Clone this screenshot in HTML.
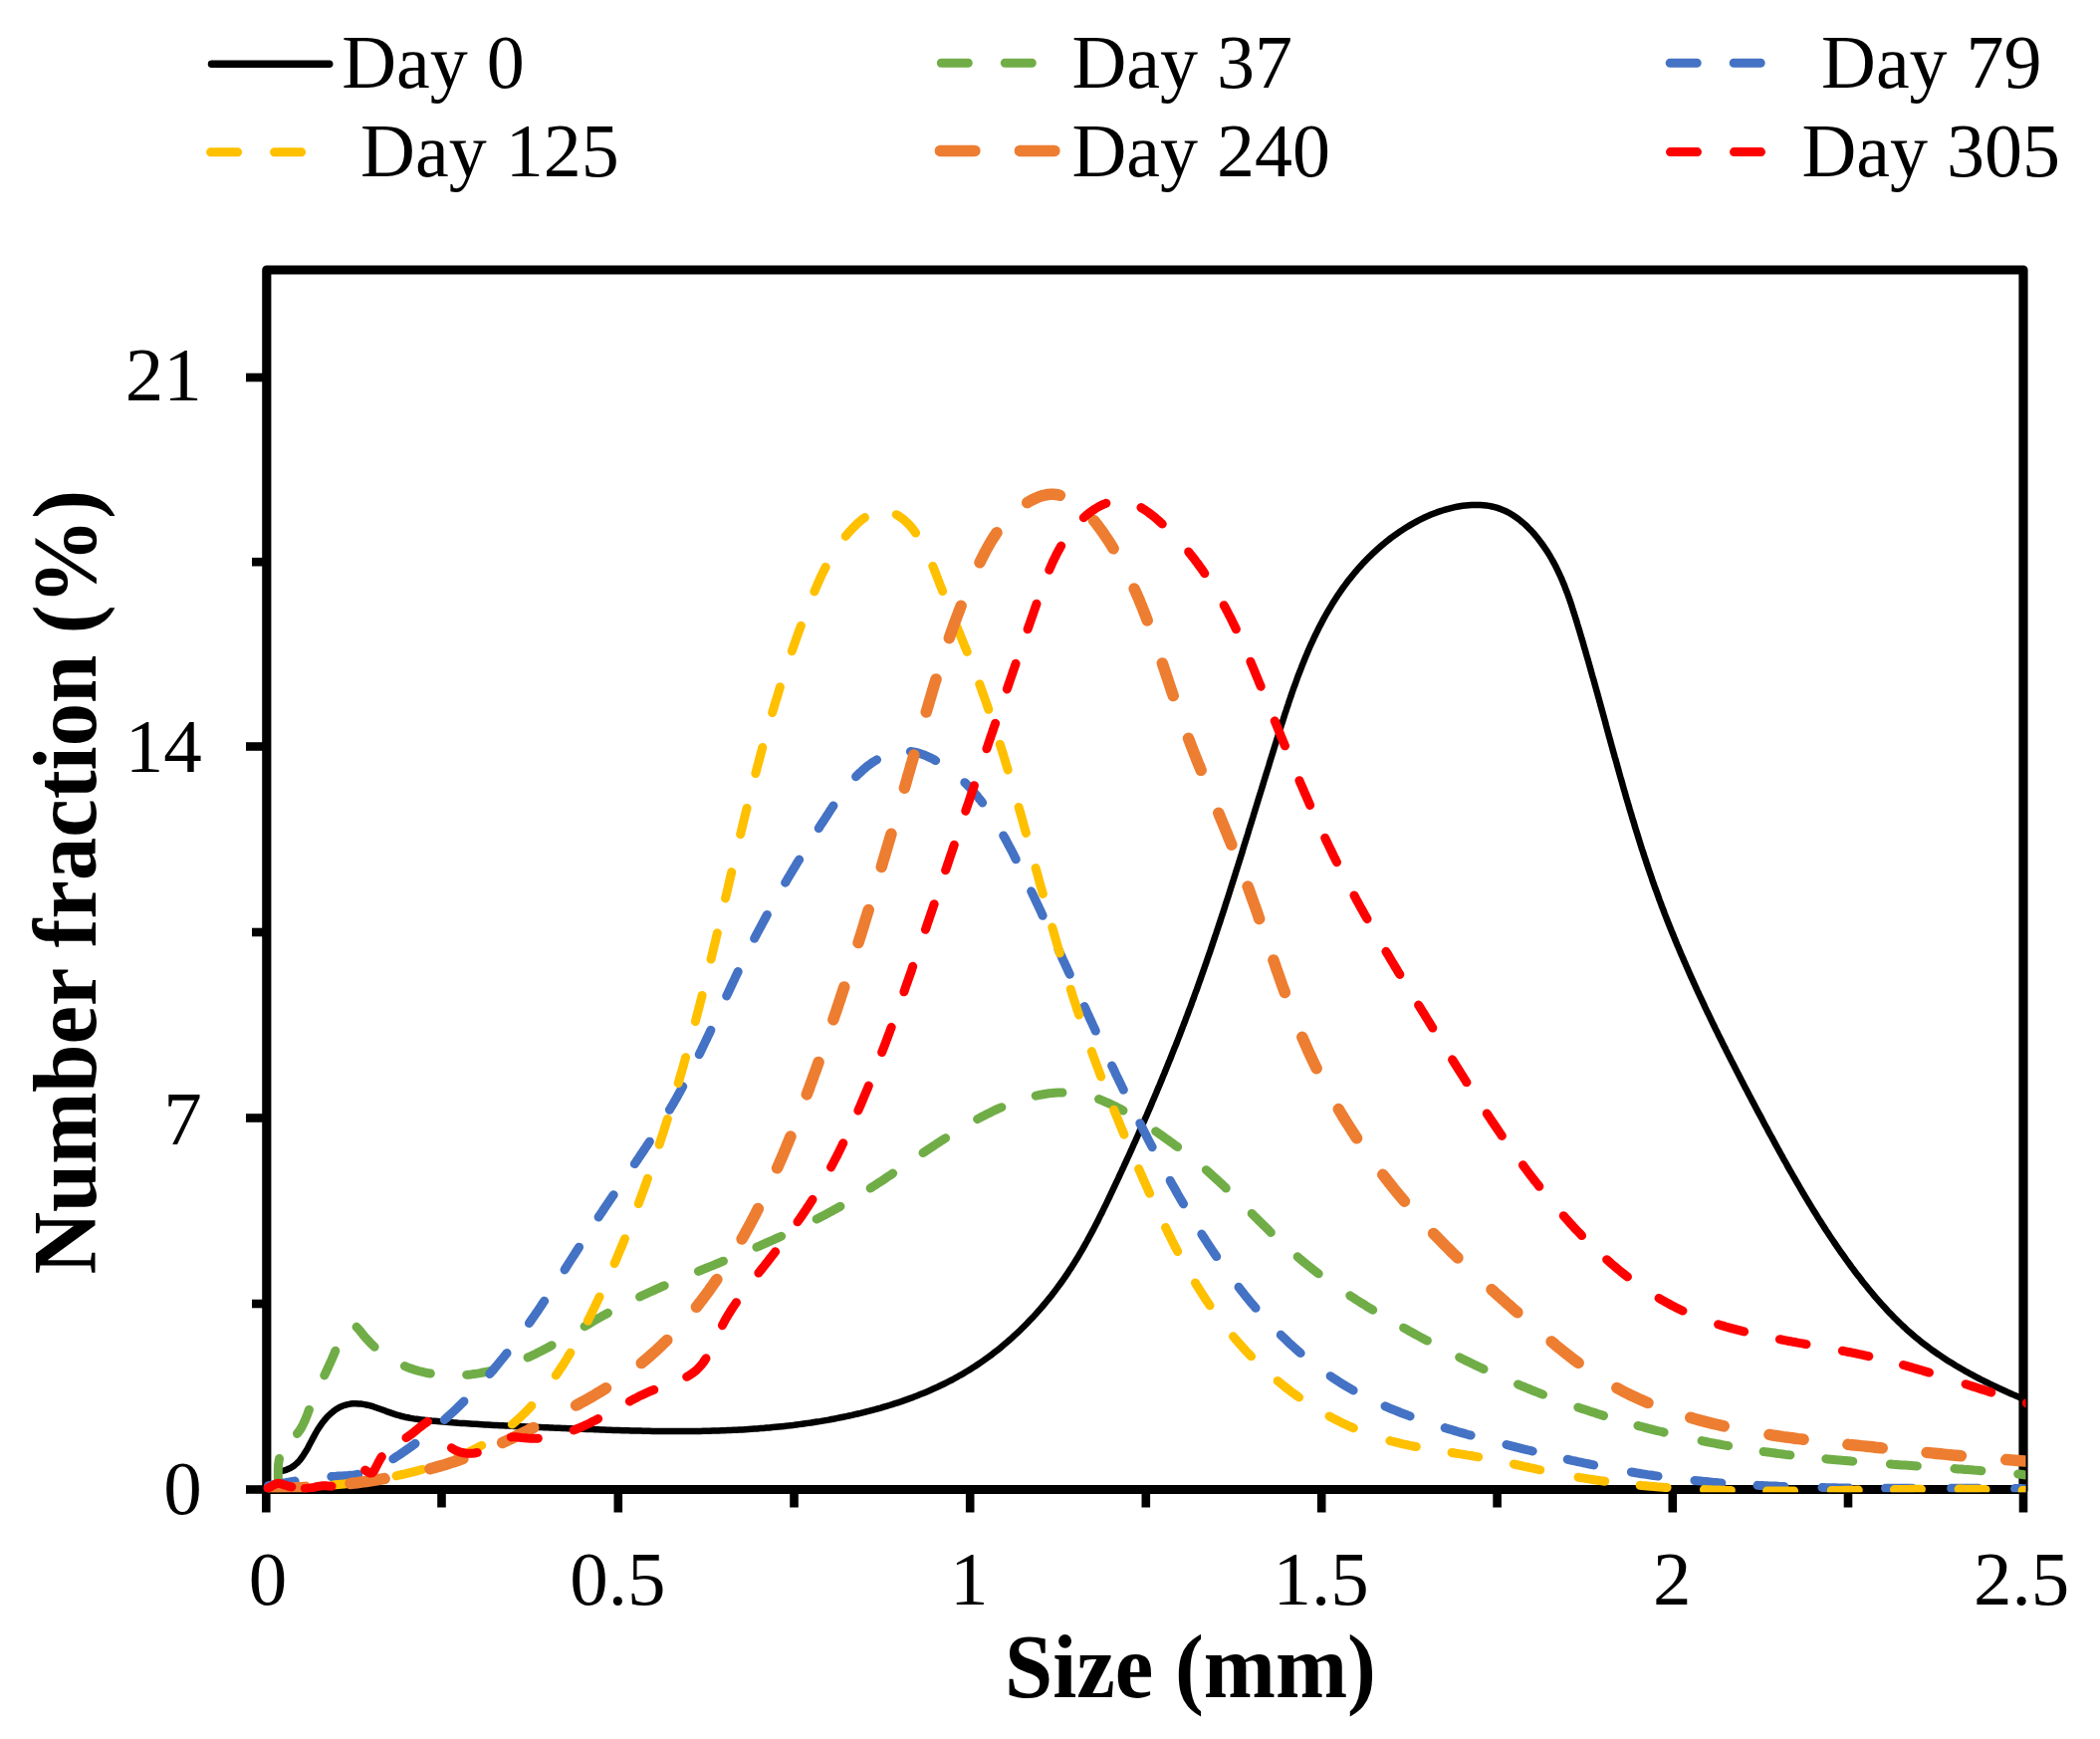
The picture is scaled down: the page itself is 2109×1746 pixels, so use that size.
<!DOCTYPE html><html><head><meta charset="utf-8"><title>Number fraction vs Size</title>
<style>html,body{margin:0;padding:0;background:#fff;overflow:hidden;}svg{display:block;}text{font-family:"Liberation Serif", "Times New Roman", serif;fill:#000;}</style></head><body>
<svg width="2109" height="1746" viewBox="0 0 2109 1746">
<rect width="2109" height="1746" fill="#fff"/>
<line x1="212.5" y1="64.2" x2="330.7" y2="64.2" stroke="#000" stroke-width="7.5" stroke-linecap="round"/>
<line x1="945.3" y1="63.3" x2="1062" y2="63.3" stroke="#70AD47" stroke-width="9" stroke-linecap="round" stroke-dasharray="27 37"/>
<line x1="1677.2" y1="63.3" x2="1794" y2="63.3" stroke="#4472C4" stroke-width="9" stroke-linecap="round" stroke-dasharray="27 37"/>
<line x1="211.6" y1="152.8" x2="328" y2="152.8" stroke="#FFC000" stroke-width="9" stroke-linecap="round" stroke-dasharray="27 37"/>
<line x1="944.4" y1="151.4" x2="1064" y2="151.4" stroke="#ED7D31" stroke-width="11.5" stroke-linecap="round" stroke-dasharray="34.5 45.5"/>
<line x1="1677.5" y1="152.6" x2="1794" y2="152.6" stroke="#FF0000" stroke-width="9" stroke-linecap="round" stroke-dasharray="27 37"/>
<text x="343.2" y="88.1" font-size="76">Day 0</text>
<text x="1076.4" y="88.1" font-size="76">Day 37</text>
<text x="1829.0" y="88.1" font-size="76">Day 79</text>
<text x="362.1" y="176.6" font-size="76">Day 125</text>
<text x="1076.4" y="176.6" font-size="76">Day 240</text>
<text x="1809.4" y="176.6" font-size="76">Day 305</text>
<path d="M267.8 1495.5 L267.8 271.0 L2032.0 271.0 L2032.0 1495.5 Z" fill="none" stroke="#000" stroke-width="9.2" stroke-linejoin="round"/>
<line x1="267.8" y1="1495.5" x2="2032.0" y2="1495.5" stroke="#000" stroke-width="8.2"/>
<line x1="267.3" y1="1495.5" x2="267.3" y2="1518.5" stroke="#000" stroke-width="8.6"/>
<line x1="443.5" y1="1495.5" x2="443.5" y2="1513.5" stroke="#000" stroke-width="8.6"/>
<line x1="620.8" y1="1495.5" x2="620.8" y2="1518.5" stroke="#000" stroke-width="8.6"/>
<line x1="797.5" y1="1495.5" x2="797.5" y2="1513.5" stroke="#000" stroke-width="8.6"/>
<line x1="974.2" y1="1495.5" x2="974.2" y2="1518.5" stroke="#000" stroke-width="8.6"/>
<line x1="1150.8" y1="1495.5" x2="1150.8" y2="1513.5" stroke="#000" stroke-width="8.6"/>
<line x1="1327.2" y1="1495.5" x2="1327.2" y2="1518.5" stroke="#000" stroke-width="8.6"/>
<line x1="1503.6" y1="1495.5" x2="1503.6" y2="1513.5" stroke="#000" stroke-width="8.6"/>
<line x1="1679.8" y1="1495.5" x2="1679.8" y2="1518.5" stroke="#000" stroke-width="8.6"/>
<line x1="1856.0" y1="1495.5" x2="1856.0" y2="1513.5" stroke="#000" stroke-width="8.6"/>
<line x1="2032.0" y1="1495.5" x2="2032.0" y2="1518.5" stroke="#000" stroke-width="8.6"/>
<line x1="247" y1="1495.5" x2="267.8" y2="1495.5" stroke="#000" stroke-width="8.6"/>
<line x1="247" y1="1122.5" x2="267.8" y2="1122.5" stroke="#000" stroke-width="8.6"/>
<line x1="247" y1="749.5" x2="267.8" y2="749.5" stroke="#000" stroke-width="8.6"/>
<line x1="247" y1="379.0" x2="267.8" y2="379.0" stroke="#000" stroke-width="8.6"/>
<line x1="253" y1="1309.0" x2="267.8" y2="1309.0" stroke="#000" stroke-width="8.6"/>
<line x1="253" y1="936.0" x2="267.8" y2="936.0" stroke="#000" stroke-width="8.6"/>
<line x1="253" y1="564.2" x2="267.8" y2="564.2" stroke="#000" stroke-width="8.6"/>
<defs><clipPath id="pa"><rect x="255" y="260" width="1779.5" height="1238.3"/></clipPath></defs><g clip-path="url(#pa)">
<path d="M281.3 1477.2L284.5 1476.6L287.5 1475.8L290.3 1474.6L292.8 1473.3L295.2 1471.7L297.3 1469.9L299.4 1468.0L301.3 1465.8L303.0 1463.5L304.7 1461.1L306.3 1458.6L307.9 1456.0L309.4 1453.3L310.8 1450.5L312.3 1447.7L313.8 1444.9L315.3 1442.1L316.8 1439.3L318.4 1436.5L320.1 1433.8L321.9 1431.2L323.7 1428.6L325.6 1426.2L327.6 1423.8L329.7 1421.6L331.9 1419.5L334.1 1417.6L336.4 1415.8L338.8 1414.3L341.2 1412.9L343.8 1411.7L346.4 1410.8L349.1 1410.1L351.8 1409.6L354.6 1409.3L357.5 1409.2L360.3 1409.4L363.2 1409.6L366.1 1410.1L369.0 1410.7L371.9 1411.4L374.8 1412.2L377.6 1413.2L380.5 1414.2L383.4 1415.2L386.3 1416.3L389.1 1417.4L392.0 1418.4L394.9 1419.4L397.8 1420.4L400.7 1421.2L403.7 1422.0L406.6 1422.7L409.6 1423.3L412.5 1423.9L415.5 1424.4L418.5 1424.8L421.5 1425.2L424.5 1425.6L427.5 1425.9L430.5 1426.2L433.5 1426.5L436.5 1426.7L439.5 1427.0L442.4 1427.3L445.4 1427.5L448.4 1427.7L451.4 1428.0L454.4 1428.2L457.4 1428.4L460.4 1428.7L463.3 1428.9L466.3 1429.1L469.3 1429.3L472.3 1429.5L475.3 1429.7L478.2 1429.8L481.2 1430.0L484.2 1430.2L487.2 1430.4L490.1 1430.5L493.1 1430.7L496.1 1430.9L499.1 1431.0L502.0 1431.2L505.0 1431.3L508.0 1431.5L511.0 1431.6L513.9 1431.8L516.9 1431.9L519.9 1432.0L522.9 1432.2L525.8 1432.3L528.8 1432.4L531.8 1432.6L534.8 1432.7L537.8 1432.8L540.7 1432.9L543.7 1433.1L546.7 1433.2L549.7 1433.3L552.7 1433.4L555.7 1433.6L558.7 1433.7L561.7 1433.8L564.7 1433.9L567.7 1434.0L570.7 1434.2L573.7 1434.3L576.7 1434.4L579.7 1434.5L582.7 1434.7L585.7 1434.8L588.7 1434.9L591.7 1435.0L594.7 1435.1L597.7 1435.2L600.7 1435.3L603.7 1435.5L606.8 1435.6L609.8 1435.7L612.8 1435.8L615.8 1435.9L618.8 1436.0L621.9 1436.1L624.9 1436.2L627.9 1436.2L630.9 1436.3L633.9 1436.4L637.0 1436.5L640.0 1436.6L643.0 1436.6L646.0 1436.7L649.1 1436.7L652.1 1436.8L655.1 1436.9L658.1 1436.9L661.2 1436.9L664.2 1437.0L667.2 1437.0L670.2 1437.0L673.3 1437.0L676.3 1437.1L679.3 1437.1L682.3 1437.1L685.4 1437.1L688.4 1437.1L691.4 1437.0L694.4 1437.0L697.5 1437.0L700.5 1436.9L703.5 1436.9L706.5 1436.8L709.6 1436.8L712.6 1436.7L715.6 1436.6L718.6 1436.5L721.6 1436.4L724.6 1436.3L727.7 1436.2L730.7 1436.1L733.7 1436.0L736.7 1435.8L739.7 1435.7L742.7 1435.5L745.7 1435.4L748.7 1435.2L751.7 1435.0L754.7 1434.8L757.7 1434.6L760.7 1434.4L763.7 1434.1L766.7 1433.9L769.7 1433.6L772.7 1433.4L775.7 1433.1L778.7 1432.8L781.7 1432.5L784.7 1432.2L787.7 1431.9L790.6 1431.6L793.6 1431.2L796.6 1430.9L799.6 1430.5L802.5 1430.1L805.5 1429.7L808.5 1429.3L811.4 1428.9L814.4 1428.5L817.4 1428.0L820.3 1427.5L823.3 1427.1L826.2 1426.6L829.2 1426.1L832.1 1425.6L835.1 1425.0L838.0 1424.5L840.9 1423.9L843.9 1423.3L846.8 1422.7L849.7 1422.1L852.6 1421.5L855.6 1420.9L858.5 1420.2L861.4 1419.5L864.3 1418.9L867.2 1418.2L870.1 1417.4L873.0 1416.7L875.9 1415.9L878.8 1415.2L881.6 1414.4L884.5 1413.6L887.4 1412.7L890.2 1411.9L893.1 1411.0L896.0 1410.1L898.8 1409.2L901.6 1408.3L904.5 1407.4L907.3 1406.4L910.1 1405.4L912.9 1404.4L915.7 1403.4L918.5 1402.3L921.3 1401.2L924.0 1400.1L926.8 1399.0L929.5 1397.9L932.3 1396.7L935.0 1395.5L937.7 1394.3L940.5 1393.1L943.2 1391.8L945.8 1390.5L948.5 1389.2L951.2 1387.9L953.8 1386.5L956.5 1385.2L959.1 1383.7L961.7 1382.3L964.3 1380.8L966.9 1379.4L969.5 1377.8L972.1 1376.3L974.6 1374.7L977.2 1373.1L979.7 1371.5L982.2 1369.8L984.7 1368.1L987.2 1366.4L989.6 1364.7L992.1 1362.9L994.5 1361.1L996.9 1359.3L999.3 1357.4L1001.7 1355.6L1004.1 1353.7L1006.4 1351.7L1008.7 1349.8L1011.1 1347.8L1013.4 1345.8L1015.6 1343.8L1017.9 1341.7L1020.1 1339.7L1022.4 1337.6L1024.6 1335.5L1026.8 1333.3L1028.9 1331.2L1031.1 1329.0L1033.2 1326.8L1035.3 1324.6L1037.4 1322.4L1039.5 1320.1L1041.5 1317.9L1043.5 1315.6L1045.5 1313.3L1047.5 1311.0L1049.5 1308.6L1051.4 1306.3L1053.4 1303.9L1055.3 1301.6L1057.1 1299.2L1059.0 1296.8L1060.8 1294.4L1062.6 1291.9L1064.4 1289.5L1066.2 1287.0L1067.9 1284.6L1069.6 1282.1L1071.3 1279.6L1073.0 1277.1L1074.6 1274.6L1076.3 1272.1L1077.9 1269.6L1079.4 1267.1L1081.0 1264.5L1082.6 1262.0L1084.1 1259.4L1085.6 1256.9L1087.1 1254.3L1088.6 1251.7L1090.0 1249.1L1091.5 1246.5L1092.9 1243.9L1094.3 1241.3L1095.7 1238.7L1097.1 1236.1L1098.5 1233.5L1099.9 1230.8L1101.2 1228.2L1102.6 1225.6L1103.9 1222.9L1105.2 1220.2L1106.6 1217.6L1107.9 1214.9L1109.2 1212.2L1110.5 1209.6L1111.8 1206.9L1113.1 1204.2L1114.4 1201.5L1115.6 1198.8L1116.9 1196.1L1118.2 1193.4L1119.5 1190.7L1120.7 1188.0L1122.0 1185.3L1123.3 1182.6L1124.5 1179.9L1125.8 1177.2L1127.0 1174.5L1128.3 1171.8L1129.5 1169.1L1130.8 1166.3L1132.0 1163.6L1133.3 1160.9L1134.5 1158.2L1135.8 1155.4L1137.0 1152.7L1138.2 1149.9L1139.5 1147.2L1140.7 1144.5L1141.9 1141.7L1143.1 1139.0L1144.3 1136.2L1145.6 1133.5L1146.8 1130.7L1148.0 1128.0L1149.2 1125.2L1150.4 1122.4L1151.6 1119.7L1152.8 1116.9L1154.0 1114.1L1155.2 1111.4L1156.4 1108.6L1157.5 1105.8L1158.7 1103.1L1159.9 1100.3L1161.1 1097.5L1162.2 1094.7L1163.4 1091.9L1164.6 1089.2L1165.7 1086.4L1166.9 1083.6L1168.0 1080.8L1169.2 1078.0L1170.3 1075.2L1171.5 1072.4L1172.6 1069.6L1173.7 1066.8L1174.9 1064.0L1176.0 1061.2L1177.1 1058.4L1178.2 1055.6L1179.3 1052.8L1180.5 1050.0L1181.6 1047.2L1182.7 1044.4L1183.8 1041.6L1184.9 1038.8L1185.9 1036.0L1187.0 1033.2L1188.1 1030.4L1189.2 1027.5L1190.3 1024.7L1191.3 1021.9L1192.4 1019.1L1193.4 1016.3L1194.5 1013.4L1195.6 1010.6L1196.6 1007.8L1197.6 1005.0L1198.7 1002.2L1199.7 999.3L1200.7 996.5L1201.8 993.7L1202.8 990.9L1203.8 988.0L1204.8 985.2L1205.8 982.4L1206.8 979.5L1207.8 976.7L1208.8 973.9L1209.8 971.0L1210.8 968.2L1211.8 965.4L1212.7 962.5L1213.7 959.7L1214.7 956.9L1215.7 954.0L1216.6 951.2L1217.6 948.4L1218.5 945.5L1219.5 942.7L1220.4 939.8L1221.4 937.0L1222.3 934.2L1223.3 931.3L1224.2 928.5L1225.2 925.6L1226.1 922.8L1227.0 919.9L1228.0 917.1L1228.9 914.2L1229.8 911.4L1230.7 908.5L1231.6 905.7L1232.6 902.8L1233.5 900.0L1234.4 897.1L1235.3 894.3L1236.2 891.4L1237.1 888.6L1238.0 885.7L1238.9 882.9L1239.8 880.0L1240.7 877.2L1241.6 874.3L1242.5 871.5L1243.4 868.6L1244.3 865.7L1245.2 862.9L1246.1 860.0L1247.0 857.2L1247.9 854.3L1248.7 851.4L1249.6 848.6L1250.5 845.7L1251.4 842.8L1252.3 840.0L1253.2 837.1L1254.0 834.3L1254.9 831.4L1255.8 828.5L1256.7 825.7L1257.6 822.8L1258.5 819.9L1259.3 817.1L1260.2 814.2L1261.1 811.3L1262.0 808.4L1262.9 805.6L1263.7 802.7L1264.6 799.8L1265.5 797.0L1266.4 794.1L1267.3 791.2L1268.2 788.3L1269.0 785.5L1269.9 782.6L1270.8 779.7L1271.7 776.8L1272.6 774.0L1273.5 771.1L1274.4 768.2L1275.2 765.3L1276.1 762.5L1277.0 759.6L1277.9 756.7L1278.8 753.8L1279.7 750.9L1280.6 748.1L1281.5 745.2L1282.4 742.3L1283.3 739.4L1284.2 736.5L1285.1 733.7L1286.0 730.8L1286.9 727.9L1287.9 725.0L1288.8 722.1L1289.7 719.3L1290.6 716.4L1291.6 713.5L1292.5 710.6L1293.5 707.8L1294.4 704.9L1295.4 702.0L1296.4 699.2L1297.3 696.3L1298.3 693.5L1299.3 690.6L1300.4 687.8L1301.4 685.0L1302.4 682.2L1303.4 679.3L1304.5 676.5L1305.6 673.7L1306.7 670.9L1307.7 668.1L1308.9 665.3L1310.0 662.6L1311.1 659.8L1312.3 657.0L1313.4 654.3L1314.6 651.5L1315.8 648.8L1317.0 646.1L1318.3 643.4L1319.5 640.7L1320.8 638.0L1322.1 635.3L1323.4 632.7L1324.7 630.0L1326.1 627.4L1327.5 624.8L1328.9 622.1L1330.3 619.5L1331.7 617.0L1333.2 614.4L1334.7 611.8L1336.2 609.3L1337.7 606.8L1339.3 604.3L1340.9 601.8L1342.5 599.3L1344.1 596.8L1345.8 594.4L1347.5 591.9L1349.2 589.5L1351.0 587.1L1352.7 584.8L1354.5 582.4L1356.4 580.1L1358.3 577.7L1360.1 575.4L1362.1 573.2L1364.0 570.9L1366.0 568.7L1368.1 566.4L1370.1 564.2L1372.2 562.1L1374.3 559.9L1376.5 557.8L1378.7 555.7L1380.9 553.6L1383.2 551.5L1385.5 549.5L1387.8 547.5L1390.2 545.5L1392.6 543.5L1395.0 541.6L1397.5 539.7L1400.0 537.9L1402.5 536.1L1405.0 534.3L1407.6 532.6L1410.2 530.9L1412.8 529.2L1415.5 527.6L1418.1 526.1L1420.8 524.6L1423.5 523.1L1426.3 521.7L1429.0 520.3L1431.8 519.0L1434.6 517.8L1437.4 516.6L1440.2 515.5L1443.0 514.4L1445.9 513.4L1448.7 512.5L1451.6 511.6L1454.5 510.8L1457.4 510.1L1460.3 509.4L1463.3 508.8L1466.2 508.3L1469.1 507.8L1472.1 507.5L1475.0 507.2L1478.0 507.0L1480.9 506.9L1483.8 506.9L1486.7 507.0L1489.6 507.2L1492.5 507.5L1495.3 507.9L1498.2 508.5L1501.0 509.1L1503.7 509.9L1506.4 510.8L1509.1 511.9L1511.8 513.0L1514.4 514.3L1516.9 515.8L1519.4 517.3L1521.9 518.9L1524.3 520.7L1526.7 522.5L1529.0 524.4L1531.3 526.4L1533.6 528.5L1535.7 530.7L1537.9 532.9L1540.0 535.2L1542.0 537.6L1544.0 540.0L1545.9 542.5L1547.8 545.0L1549.6 547.5L1551.4 550.1L1553.1 552.6L1554.8 555.3L1556.4 557.9L1557.9 560.5L1559.4 563.2L1560.9 565.8L1562.3 568.5L1563.6 571.2L1564.9 573.9L1566.2 576.6L1567.5 579.4L1568.7 582.1L1569.8 584.9L1571.0 587.6L1572.0 590.4L1573.1 593.2L1574.2 596.0L1575.2 598.8L1576.2 601.6L1577.1 604.4L1578.1 607.2L1579.0 610.1L1579.9 612.9L1580.8 615.7L1581.7 618.6L1582.6 621.4L1583.5 624.3L1584.3 627.1L1585.2 630.0L1586.1 632.9L1586.9 635.7L1587.8 638.6L1588.6 641.5L1589.5 644.3L1590.3 647.2L1591.1 650.1L1592.0 652.9L1592.8 655.8L1593.6 658.7L1594.5 661.6L1595.3 664.5L1596.1 667.3L1596.9 670.2L1597.7 673.1L1598.5 676.0L1599.3 678.9L1600.2 681.8L1601.0 684.7L1601.8 687.6L1602.6 690.5L1603.4 693.3L1604.2 696.2L1605.0 699.1L1605.8 702.0L1606.6 704.9L1607.4 707.8L1608.2 710.7L1609.0 713.6L1609.8 716.5L1610.6 719.4L1611.4 722.3L1612.2 725.2L1612.9 728.1L1613.7 731.0L1614.5 734.0L1615.3 736.9L1616.1 739.8L1616.9 742.7L1617.7 745.6L1618.5 748.5L1619.3 751.4L1620.1 754.3L1620.9 757.2L1621.7 760.1L1622.6 763.0L1623.4 765.9L1624.2 768.8L1625.0 771.7L1625.8 774.6L1626.6 777.5L1627.4 780.4L1628.3 783.3L1629.1 786.2L1629.9 789.1L1630.7 792.0L1631.6 794.9L1632.4 797.8L1633.2 800.7L1634.1 803.6L1634.9 806.4L1635.8 809.3L1636.6 812.2L1637.5 815.1L1638.4 818.0L1639.2 820.9L1640.1 823.8L1641.0 826.6L1641.8 829.5L1642.7 832.4L1643.6 835.3L1644.5 838.1L1645.4 841.0L1646.3 843.9L1647.2 846.7L1648.1 849.6L1649.0 852.5L1650.0 855.3L1650.9 858.2L1651.8 861.0L1652.8 863.9L1653.7 866.7L1654.7 869.6L1655.6 872.4L1656.6 875.3L1657.6 878.1L1658.6 881.0L1659.5 883.8L1660.5 886.6L1661.5 889.5L1662.5 892.3L1663.6 895.1L1664.6 897.9L1665.6 900.7L1666.6 903.6L1667.7 906.4L1668.7 909.2L1669.8 912.0L1670.9 914.8L1671.9 917.6L1673.0 920.4L1674.1 923.2L1675.2 925.9L1676.3 928.7L1677.4 931.5L1678.5 934.3L1679.7 937.1L1680.8 939.8L1681.9 942.6L1683.1 945.4L1684.2 948.2L1685.4 950.9L1686.6 953.7L1687.7 956.4L1688.9 959.2L1690.1 961.9L1691.3 964.7L1692.5 967.4L1693.7 970.2L1694.9 972.9L1696.1 975.7L1697.3 978.4L1698.5 981.1L1699.8 983.9L1701.0 986.6L1702.2 989.3L1703.5 992.1L1704.7 994.8L1706.0 997.5L1707.2 1000.2L1708.5 1002.9L1709.8 1005.7L1711.1 1008.4L1712.3 1011.1L1713.6 1013.8L1714.9 1016.5L1716.2 1019.2L1717.5 1021.9L1718.8 1024.6L1720.1 1027.3L1721.4 1030.0L1722.7 1032.7L1724.1 1035.4L1725.4 1038.1L1726.7 1040.8L1728.1 1043.5L1729.4 1046.2L1730.7 1048.9L1732.1 1051.5L1733.4 1054.2L1734.8 1056.9L1736.1 1059.6L1737.5 1062.3L1738.8 1064.9L1740.2 1067.6L1741.6 1070.3L1743.0 1073.0L1744.3 1075.6L1745.7 1078.3L1747.1 1081.0L1748.5 1083.7L1749.8 1086.3L1751.2 1089.0L1752.6 1091.7L1754.0 1094.3L1755.4 1097.0L1756.8 1099.7L1758.2 1102.3L1759.6 1105.0L1761.0 1107.6L1762.4 1110.3L1763.8 1113.0L1765.2 1115.6L1766.7 1118.3L1768.1 1120.9L1769.5 1123.6L1770.9 1126.2L1772.3 1128.9L1773.7 1131.5L1775.2 1134.2L1776.6 1136.9L1778.0 1139.5L1779.5 1142.1L1780.9 1144.8L1782.3 1147.4L1783.8 1150.1L1785.2 1152.7L1786.7 1155.4L1788.1 1158.0L1789.6 1160.6L1791.0 1163.3L1792.5 1165.9L1794.0 1168.5L1795.4 1171.1L1796.9 1173.8L1798.4 1176.4L1799.9 1179.0L1801.4 1181.6L1802.9 1184.2L1804.4 1186.8L1805.9 1189.4L1807.4 1192.0L1808.9 1194.6L1810.4 1197.2L1812.0 1199.8L1813.5 1202.4L1815.0 1204.9L1816.6 1207.5L1818.2 1210.1L1819.7 1212.6L1821.3 1215.2L1822.9 1217.8L1824.5 1220.3L1826.0 1222.8L1827.6 1225.4L1829.3 1227.9L1830.9 1230.4L1832.5 1233.0L1834.1 1235.5L1835.8 1238.0L1837.4 1240.5L1839.1 1243.0L1840.8 1245.5L1842.4 1247.9L1844.1 1250.4L1845.8 1252.9L1847.5 1255.3L1849.2 1257.8L1851.0 1260.2L1852.7 1262.7L1854.4 1265.1L1856.2 1267.5L1858.0 1270.0L1859.7 1272.4L1861.5 1274.8L1863.3 1277.2L1865.1 1279.6L1867.0 1281.9L1868.8 1284.3L1870.6 1286.7L1872.5 1289.0L1874.4 1291.3L1876.3 1293.7L1878.2 1296.0L1880.1 1298.3L1882.0 1300.6L1883.9 1302.9L1885.9 1305.1L1887.9 1307.4L1889.9 1309.6L1891.9 1311.8L1893.9 1314.0L1895.9 1316.2L1898.0 1318.4L1900.1 1320.5L1902.2 1322.7L1904.3 1324.8L1906.4 1326.9L1908.6 1329.0L1910.7 1331.0L1912.9 1333.0L1915.1 1335.1L1917.3 1337.1L1919.6 1339.0L1921.9 1341.0L1924.2 1342.9L1926.5 1344.8L1928.8 1346.7L1931.2 1348.6L1933.6 1350.4L1936.0 1352.2L1938.4 1354.0L1940.8 1355.8L1943.3 1357.5L1945.8 1359.2L1948.3 1360.9L1950.8 1362.6L1953.3 1364.3L1955.8 1365.9L1958.4 1367.5L1961.0 1369.1L1963.6 1370.7L1966.2 1372.2L1968.8 1373.8L1971.4 1375.3L1974.0 1376.8L1976.7 1378.2L1979.3 1379.7L1982.0 1381.1L1984.7 1382.6L1987.4 1384.0L1990.0 1385.3L1992.7 1386.7L1995.4 1388.0L1998.2 1389.4L2000.9 1390.7L2003.6 1392.0L2006.3 1393.3L2009.0 1394.5L2011.8 1395.8L2014.5 1397.0L2017.2 1398.2L2020.0 1399.4L2022.7 1400.6L2025.4 1401.8L2028.2 1402.9L2030.9 1404.0L2033.6 1405.2L2036.3 1406.3L2039.1 1407.4L2041.8 1408.5" fill="none" stroke="#000" stroke-width="6.5" stroke-linecap="round" stroke-linejoin="round"/>
<path d="M279.6 1494.4L279.6 1491.6L279.5 1488.6L279.4 1485.6L279.3 1482.6L279.3 1479.5L279.3 1476.4L279.4 1473.4L279.6 1470.3L280.0 1467.3L280.5 1464.4L281.2 1461.5L282.2 1458.8L283.3 1456.1L284.8 1453.6L286.6 1451.2L288.6 1449.0L290.9 1446.9L293.2 1444.8L295.4 1442.7L297.6 1440.5L299.5 1438.2L301.2 1435.8L302.8 1433.3L304.1 1430.7L305.4 1428.1L306.6 1425.4L307.7 1422.6L308.8 1419.8L309.8 1417.0L310.9 1414.2L312.1 1411.3L313.2 1408.4L314.4 1405.6L315.7 1402.7L316.9 1399.9L318.2 1397.0L319.5 1394.2L320.8 1391.5L322.0 1388.7L323.3 1386.1L324.6 1383.4L325.8 1380.9L327.0 1378.3L328.2 1375.8L329.4 1373.3L330.5 1370.8L331.7 1368.1L333.0 1365.4L334.2 1362.5L335.5 1359.5L336.8 1356.3L338.1 1352.9L339.5 1349.4L341.0 1345.8L342.4 1342.4L344.0 1339.2L345.5 1336.3L347.2 1333.8L348.8 1331.8L350.5 1330.4L352.2 1329.7L354.0 1329.8L355.8 1330.6L357.7 1332.0L359.6 1333.9L361.5 1336.2L363.5 1338.6L365.5 1341.1L367.6 1343.6L369.8 1345.9L371.9 1348.2L374.2 1350.4L376.4 1352.6L378.7 1354.6L381.1 1356.6L383.5 1358.4L385.9 1360.2L388.4 1361.9L390.9 1363.6L393.5 1365.1L396.0 1366.6L398.6 1368.0L401.3 1369.3L404.0 1370.6L406.7 1371.7L409.4 1372.8L412.1 1373.9L414.9 1374.8L417.7 1375.7L420.5 1376.5L423.3 1377.2L426.2 1377.9L429.1 1378.5L432.0 1379.0L434.9 1379.5L437.8 1379.9L440.7 1380.3L443.6 1380.5L446.6 1380.7L449.5 1380.9L452.5 1381.0L455.4 1381.0L458.4 1381.0L461.4 1380.9L464.3 1380.7L467.3 1380.5L470.3 1380.2L473.2 1379.9L476.2 1379.5L479.1 1379.1L482.1 1378.6L485.0 1378.0L487.9 1377.5L490.8 1376.8L493.7 1376.1L496.6 1375.4L499.4 1374.6L502.3 1373.7L505.1 1372.8L507.9 1371.9L510.7 1370.9L513.5 1369.9L516.3 1368.9L519.1 1367.8L521.8 1366.6L524.6 1365.5L527.3 1364.3L530.0 1363.0L532.7 1361.8L535.4 1360.5L538.1 1359.2L540.8 1357.8L543.5 1356.5L546.2 1355.1L548.8 1353.7L551.5 1352.2L554.1 1350.8L556.8 1349.3L559.4 1347.9L562.1 1346.4L564.7 1344.9L567.3 1343.3L570.0 1341.8L572.6 1340.3L575.2 1338.8L577.8 1337.2L580.4 1335.7L583.0 1334.1L585.7 1332.6L588.3 1331.0L590.9 1329.5L593.5 1328.0L596.1 1326.4L598.8 1324.9L601.4 1323.4L604.0 1321.9L606.6 1320.4L609.3 1319.0L611.9 1317.5L614.6 1316.1L617.2 1314.7L619.9 1313.3L622.5 1311.9L625.2 1310.5L627.9 1309.1L630.5 1307.8L633.2 1306.5L635.9 1305.2L638.6 1303.8L641.3 1302.6L644.0 1301.3L646.7 1300.0L649.4 1298.8L652.1 1297.5L654.8 1296.3L657.5 1295.1L660.2 1293.8L663.0 1292.6L665.7 1291.4L668.4 1290.3L671.2 1289.1L673.9 1287.9L676.6 1286.7L679.4 1285.6L682.1 1284.4L684.9 1283.3L687.6 1282.1L690.4 1281.0L693.1 1279.8L695.9 1278.7L698.6 1277.6L701.4 1276.4L704.2 1275.3L706.9 1274.2L709.7 1273.0L712.5 1271.9L715.2 1270.8L718.0 1269.6L720.8 1268.5L723.5 1267.4L726.3 1266.2L729.1 1265.1L731.9 1264.0L734.6 1262.8L737.4 1261.7L740.2 1260.5L743.0 1259.4L745.8 1258.2L748.6 1257.0L751.3 1255.8L754.1 1254.7L756.9 1253.5L759.7 1252.3L762.5 1251.1L765.2 1249.9L768.0 1248.7L770.8 1247.4L773.6 1246.2L776.3 1245.0L779.1 1243.7L781.9 1242.5L784.6 1241.2L787.4 1240.0L790.1 1238.7L792.9 1237.4L795.6 1236.1L798.4 1234.8L801.1 1233.5L803.8 1232.2L806.5 1230.9L809.2 1229.5L812.0 1228.2L814.7 1226.8L817.4 1225.5L820.0 1224.1L822.7 1222.7L825.4 1221.3L828.1 1219.9L830.7 1218.5L833.4 1217.1L836.0 1215.7L838.6 1214.2L841.2 1212.8L843.9 1211.3L846.5 1209.9L849.0 1208.4L851.6 1206.9L854.2 1205.4L856.7 1203.9L859.3 1202.3L861.8 1200.8L864.3 1199.2L866.9 1197.7L869.4 1196.1L871.8 1194.5L874.3 1192.9L876.8 1191.3L879.3 1189.7L881.7 1188.1L884.2 1186.5L886.6 1184.9L889.1 1183.2L891.5 1181.6L894.0 1180.0L896.4 1178.3L898.9 1176.7L901.3 1175.0L903.7 1173.4L906.2 1171.7L908.6 1170.0L911.0 1168.4L913.5 1166.7L915.9 1165.0L918.4 1163.4L920.8 1161.7L923.3 1160.0L925.7 1158.4L928.2 1156.7L930.7 1155.0L933.2 1153.4L935.7 1151.7L938.2 1150.1L940.7 1148.4L943.2 1146.8L945.7 1145.1L948.3 1143.5L950.8 1141.9L953.4 1140.3L955.9 1138.7L958.5 1137.1L961.2 1135.5L963.8 1133.9L966.4 1132.3L969.1 1130.7L971.7 1129.2L974.4 1127.6L977.1 1126.1L979.8 1124.6L982.6 1123.1L985.3 1121.6L988.1 1120.2L990.8 1118.8L993.6 1117.4L996.4 1116.0L999.2 1114.7L1002.0 1113.4L1004.8 1112.2L1007.6 1110.9L1010.5 1109.7L1013.3 1108.6L1016.1 1107.5L1019.0 1106.4L1021.8 1105.4L1024.7 1104.5L1027.6 1103.5L1030.4 1102.7L1033.3 1101.9L1036.2 1101.1L1039.1 1100.4L1042.0 1099.8L1044.8 1099.2L1047.7 1098.7L1050.6 1098.2L1053.5 1097.8L1056.4 1097.5L1059.2 1097.3L1062.1 1097.1L1065.0 1097.0L1067.9 1097.0L1070.7 1097.0L1073.6 1097.1L1076.5 1097.3L1079.3 1097.6L1082.2 1098.0L1085.0 1098.5L1087.8 1099.0L1090.7 1099.7L1093.5 1100.4L1096.3 1101.2L1099.1 1102.1L1101.9 1103.0L1104.7 1104.0L1107.5 1105.1L1110.2 1106.3L1113.0 1107.5L1115.7 1108.7L1118.5 1110.1L1121.2 1111.4L1123.9 1112.8L1126.6 1114.3L1129.3 1115.8L1132.0 1117.3L1134.7 1118.9L1137.3 1120.5L1140.0 1122.1L1142.6 1123.8L1145.2 1125.5L1147.8 1127.2L1150.4 1128.9L1152.9 1130.6L1155.5 1132.3L1158.0 1134.1L1160.6 1135.8L1163.1 1137.5L1165.5 1139.3L1168.0 1141.0L1170.5 1142.8L1172.9 1144.5L1175.4 1146.3L1177.8 1148.0L1180.2 1149.8L1182.6 1151.5L1184.9 1153.3L1187.3 1155.1L1189.6 1156.9L1192.0 1158.7L1194.3 1160.5L1196.6 1162.4L1198.9 1164.2L1201.2 1166.1L1203.5 1168.0L1205.7 1169.8L1208.0 1171.8L1210.2 1173.7L1212.5 1175.6L1214.7 1177.6L1216.9 1179.6L1219.1 1181.6L1221.3 1183.6L1223.5 1185.6L1225.7 1187.7L1227.9 1189.7L1230.1 1191.8L1232.2 1193.9L1234.4 1196.0L1236.6 1198.1L1238.7 1200.2L1240.9 1202.3L1243.0 1204.4L1245.2 1206.5L1247.3 1208.6L1249.5 1210.8L1251.6 1212.9L1253.8 1215.1L1255.9 1217.2L1258.1 1219.3L1260.2 1221.5L1262.4 1223.6L1264.5 1225.7L1266.7 1227.9L1268.8 1230.0L1271.0 1232.1L1273.2 1234.3L1275.3 1236.4L1277.5 1238.5L1279.7 1240.6L1281.9 1242.7L1284.1 1244.7L1286.3 1246.8L1288.5 1248.9L1290.7 1250.9L1293.0 1252.9L1295.2 1254.9L1297.5 1256.9L1299.7 1258.9L1302.0 1260.9L1304.3 1262.8L1306.6 1264.8L1308.9 1266.7L1311.2 1268.6L1313.5 1270.5L1315.8 1272.3L1318.2 1274.2L1320.5 1276.0L1322.9 1277.8L1325.3 1279.6L1327.7 1281.4L1330.1 1283.2L1332.5 1284.9L1334.9 1286.7L1337.3 1288.4L1339.8 1290.1L1342.2 1291.8L1344.7 1293.5L1347.1 1295.2L1349.6 1296.8L1352.1 1298.5L1354.6 1300.1L1357.1 1301.7L1359.6 1303.3L1362.1 1305.0L1364.6 1306.5L1367.1 1308.1L1369.7 1309.7L1372.2 1311.3L1374.7 1312.8L1377.3 1314.4L1379.8 1315.9L1382.4 1317.4L1385.0 1319.0L1387.6 1320.5L1390.1 1322.0L1392.7 1323.5L1395.3 1325.0L1397.9 1326.5L1400.5 1328.0L1403.1 1329.5L1405.7 1330.9L1408.3 1332.4L1411.0 1333.9L1413.6 1335.3L1416.2 1336.8L1418.8 1338.2L1421.5 1339.7L1424.1 1341.1L1426.8 1342.6L1429.4 1344.0L1432.1 1345.4L1434.7 1346.8L1437.4 1348.3L1440.0 1349.7L1442.7 1351.1L1445.4 1352.5L1448.1 1353.9L1450.7 1355.3L1453.4 1356.6L1456.1 1358.0L1458.8 1359.4L1461.5 1360.7L1464.2 1362.1L1466.9 1363.4L1469.6 1364.8L1472.3 1366.1L1475.0 1367.4L1477.7 1368.7L1480.4 1370.1L1483.2 1371.4L1485.9 1372.7L1488.6 1373.9L1491.4 1375.2L1494.1 1376.5L1496.8 1377.8L1499.6 1379.0L1502.3 1380.3L1505.1 1381.5L1507.8 1382.7L1510.6 1383.9L1513.3 1385.2L1516.1 1386.4L1518.9 1387.6L1521.6 1388.7L1524.4 1389.9L1527.2 1391.1L1530.0 1392.2L1532.7 1393.4L1535.5 1394.5L1538.3 1395.7L1541.1 1396.8L1543.9 1397.9L1546.7 1399.0L1549.5 1400.1L1552.3 1401.2L1555.1 1402.2L1557.9 1403.3L1560.7 1404.3L1563.5 1405.4L1566.3 1406.4L1569.2 1407.4L1572.0 1408.5L1574.8 1409.5L1577.6 1410.5L1580.5 1411.5L1583.3 1412.4L1586.1 1413.4L1589.0 1414.4L1591.8 1415.3L1594.7 1416.3L1597.5 1417.2L1600.4 1418.1L1603.2 1419.1L1606.1 1420.0L1608.9 1420.9L1611.8 1421.8L1614.7 1422.6L1617.5 1423.5L1620.4 1424.4L1623.3 1425.2L1626.1 1426.1L1629.0 1426.9L1631.9 1427.7L1634.8 1428.6L1637.6 1429.4L1640.5 1430.2L1643.4 1431.0L1646.3 1431.8L1649.2 1432.5L1652.1 1433.3L1655.0 1434.1L1657.9 1434.8L1660.8 1435.6L1663.7 1436.3L1666.6 1437.0L1669.5 1437.7L1672.4 1438.5L1675.3 1439.2L1678.2 1439.8L1681.1 1440.5L1684.1 1441.2L1687.0 1441.9L1689.9 1442.5L1692.8 1443.2L1695.8 1443.8L1698.7 1444.4L1701.6 1445.1L1704.5 1445.7L1707.5 1446.3L1710.4 1446.9L1713.4 1447.5L1716.3 1448.1L1719.2 1448.6L1722.2 1449.2L1725.1 1449.8L1728.1 1450.3L1731.0 1450.9L1734.0 1451.4L1736.9 1451.9L1739.9 1452.4L1742.8 1452.9L1745.8 1453.4L1748.7 1453.9L1751.7 1454.4L1754.7 1454.9L1757.6 1455.4L1760.6 1455.8L1763.6 1456.3L1766.5 1456.7L1769.5 1457.2L1772.5 1457.6L1775.4 1458.0L1778.4 1458.4L1781.4 1458.8L1784.4 1459.2L1787.4 1459.6L1790.3 1460.0L1793.3 1460.4L1796.3 1460.7L1799.3 1461.1L1802.3 1461.5L1805.3 1461.8L1808.2 1462.1L1811.2 1462.5L1814.2 1462.8L1817.2 1463.1L1820.2 1463.4L1823.2 1463.7L1826.2 1464.1L1829.2 1464.4L1832.2 1464.6L1835.2 1464.9L1838.2 1465.2L1841.2 1465.5L1844.2 1465.8L1847.2 1466.0L1850.2 1466.3L1853.2 1466.5L1856.2 1466.8L1859.2 1467.1L1862.2 1467.3L1865.2 1467.5L1868.2 1467.8L1871.2 1468.0L1874.2 1468.3L1877.2 1468.5L1880.2 1468.7L1883.2 1468.9L1886.2 1469.2L1889.2 1469.4L1892.2 1469.6L1895.2 1469.8L1898.2 1470.0L1901.2 1470.3L1904.2 1470.5L1907.2 1470.7L1910.2 1470.9L1913.3 1471.1L1916.3 1471.3L1919.3 1471.5L1922.3 1471.7L1925.3 1471.9L1928.3 1472.1L1931.3 1472.3L1934.3 1472.6L1937.3 1472.8L1940.3 1473.0L1943.3 1473.2L1946.3 1473.4L1949.3 1473.6L1952.3 1473.8L1955.3 1474.0L1958.3 1474.3L1961.3 1474.5L1964.3 1474.7L1967.3 1474.9L1970.3 1475.1L1973.2 1475.4L1976.2 1475.6L1979.2 1475.8L1982.2 1476.1L1985.2 1476.3L1988.2 1476.5L1991.2 1476.8L1994.2 1477.0L1997.2 1477.3L2000.1 1477.5L2003.1 1477.8L2006.1 1478.1L2009.1 1478.3L2012.1 1478.6L2015.0 1478.9L2018.0 1479.2L2021.0 1479.5L2024.0 1479.7L2026.9 1480.0L2029.9 1480.3L2032.9 1480.7L2035.8 1481.0L2038.8 1481.3L2041.7 1481.6L2044.7 1482.0" fill="none" stroke="#70AD47" stroke-width="9" stroke-linecap="round" stroke-linejoin="round" stroke-dasharray="27.0 31.5 27.0 37.8 27.0 38.0 27.0 36.1 27.0 36.5 27.0 37.1 27.0 38.1 27.0 36.0 27.0 37.2 27.0 36.3 27.0 39.5 27.0 35.3 27.0 36.7 27.0 37.3 27.0 36.3 27.0 37.4 27.0 38.8 27.0 36.9 27.0 36.3 27.0 36.3 27.0 38.6 27.0 35.8 27.0 36.4 27.0 37.8 27.0 37.6 27.0 35.9 27.0 38.9 27.0 36.0 27.0 36.2 27.0 37.8 27.0 37.7 27.0 37.0 27.0 2269.1" stroke-dashoffset="-3.0"/>
<path d="M268.9 1491.7L271.9 1491.2L274.9 1490.7L277.8 1490.2L280.8 1489.7L283.7 1489.2L286.7 1488.7L289.6 1488.2L292.5 1487.7L295.5 1487.2L298.4 1486.7L301.4 1486.2L304.4 1485.8L307.3 1485.3L310.3 1484.9L313.2 1484.5L316.2 1484.1L319.2 1483.8L322.2 1483.5L325.2 1483.2L328.2 1482.9L331.2 1482.7L334.2 1482.4L337.3 1482.3L340.3 1482.1L343.3 1481.9L346.3 1481.7L349.4 1481.5L352.3 1481.2L355.3 1480.9L358.3 1480.5L361.2 1479.9L364.1 1479.3L366.9 1478.6L369.8 1477.7L372.5 1476.8L375.3 1475.7L378.0 1474.5L380.6 1473.2L383.2 1471.8L385.8 1470.3L388.4 1468.8L391.0 1467.2L393.5 1465.6L396.0 1464.0L398.5 1462.3L401.0 1460.7L403.5 1459.0L406.0 1457.3L408.5 1455.5L410.9 1453.8L413.4 1452.0L415.8 1450.3L418.2 1448.5L420.6 1446.6L423.0 1444.8L425.4 1443.0L427.7 1441.1L430.1 1439.2L432.4 1437.3L434.7 1435.4L437.0 1433.5L439.3 1431.5L441.6 1429.6L443.9 1427.6L446.2 1425.6L448.4 1423.6L450.6 1421.6L452.9 1419.5L455.1 1417.5L457.3 1415.4L459.5 1413.3L461.6 1411.2L463.8 1409.1L465.9 1407.0L468.1 1404.9L470.2 1402.7L472.3 1400.6L474.4 1398.4L476.5 1396.2L478.6 1394.0L480.6 1391.8L482.7 1389.6L484.7 1387.4L486.7 1385.1L488.7 1382.9L490.7 1380.6L492.7 1378.4L494.7 1376.1L496.6 1373.8L498.6 1371.5L500.5 1369.2L502.4 1366.8L504.3 1364.5L506.2 1362.2L508.1 1359.8L509.9 1357.5L511.8 1355.1L513.6 1352.7L515.4 1350.3L517.3 1347.9L519.1 1345.5L520.8 1343.1L522.6 1340.7L524.4 1338.3L526.2 1335.9L527.9 1333.4L529.6 1331.0L531.4 1328.6L533.1 1326.1L534.8 1323.7L536.5 1321.2L538.2 1318.7L539.9 1316.3L541.6 1313.8L543.3 1311.3L544.9 1308.8L546.6 1306.3L548.2 1303.8L549.9 1301.3L551.5 1298.8L553.2 1296.3L554.8 1293.8L556.4 1291.3L558.1 1288.8L559.7 1286.3L561.3 1283.8L562.9 1281.2L564.6 1278.7L566.2 1276.2L567.8 1273.7L569.4 1271.1L571.0 1268.6L572.6 1266.1L574.2 1263.6L575.9 1261.0L577.5 1258.5L579.1 1256.0L580.7 1253.5L582.3 1250.9L583.9 1248.4L585.5 1245.9L587.2 1243.4L588.8 1240.8L590.4 1238.3L592.0 1235.8L593.7 1233.3L595.3 1230.8L597.0 1228.3L598.6 1225.8L600.3 1223.3L601.9 1220.8L603.6 1218.3L605.3 1215.8L606.9 1213.3L608.6 1210.8L610.3 1208.3L612.0 1205.8L613.7 1203.3L615.4 1200.8L617.0 1198.4L618.7 1195.9L620.4 1193.4L622.1 1190.9L623.8 1188.4L625.5 1186.0L627.2 1183.5L628.9 1181.0L630.6 1178.5L632.3 1176.1L634.0 1173.6L635.7 1171.1L637.4 1168.6L639.1 1166.1L640.8 1163.6L642.4 1161.1L644.1 1158.6L645.8 1156.1L647.5 1153.6L649.1 1151.1L650.8 1148.6L652.4 1146.1L654.1 1143.6L655.7 1141.1L657.3 1138.6L659.0 1136.0L660.6 1133.5L662.2 1131.0L663.8 1128.4L665.4 1125.9L666.9 1123.3L668.5 1120.8L670.1 1118.2L671.6 1115.6L673.2 1113.0L674.7 1110.5L676.2 1107.9L677.7 1105.3L679.2 1102.7L680.7 1100.0L682.1 1097.4L683.6 1094.8L685.0 1092.1L686.5 1089.5L687.9 1086.8L689.3 1084.2L690.7 1081.5L692.1 1078.8L693.5 1076.2L694.8 1073.5L696.2 1070.8L697.5 1068.1L698.9 1065.4L700.2 1062.7L701.6 1060.0L702.9 1057.3L704.2 1054.6L705.5 1051.8L706.8 1049.1L708.1 1046.4L709.4 1043.7L710.7 1040.9L712.0 1038.2L713.3 1035.5L714.5 1032.8L715.8 1030.0L717.1 1027.3L718.4 1024.5L719.6 1021.8L720.9 1019.1L722.2 1016.3L723.4 1013.6L724.7 1010.9L725.9 1008.1L727.2 1005.4L728.5 1002.7L729.7 999.9L731.0 997.2L732.3 994.5L733.5 991.8L734.8 989.0L736.1 986.3L737.4 983.6L738.6 980.9L739.9 978.2L741.2 975.5L742.5 972.8L743.8 970.1L745.1 967.4L746.4 964.7L747.7 962.0L749.0 959.4L750.3 956.7L751.7 954.0L753.0 951.4L754.4 948.7L755.7 946.1L757.1 943.4L758.4 940.8L759.8 938.2L761.2 935.5L762.6 932.9L764.0 930.3L765.4 927.7L766.8 925.1L768.2 922.5L769.6 919.9L771.0 917.3L772.5 914.7L773.9 912.1L775.4 909.5L776.8 906.9L778.3 904.3L779.7 901.7L781.2 899.1L782.7 896.5L784.2 894.0L785.7 891.4L787.2 888.8L788.7 886.2L790.2 883.7L791.7 881.1L793.3 878.5L794.8 875.9L796.3 873.4L797.9 870.8L799.5 868.2L801.0 865.6L802.6 863.1L804.2 860.5L805.8 857.9L807.3 855.3L808.9 852.7L810.5 850.2L812.2 847.6L813.8 845.0L815.4 842.4L817.0 839.8L818.7 837.2L820.3 834.6L822.0 832.0L823.6 829.4L825.3 826.8L827.0 824.2L828.7 821.6L830.4 819.0L832.1 816.4L833.8 813.7L835.5 811.1L837.2 808.5L839.0 806.0L840.7 803.4L842.5 800.9L844.3 798.3L846.2 795.8L848.0 793.4L849.9 791.0L851.8 788.6L853.8 786.3L855.8 784.0L857.8 781.7L859.8 779.5L861.9 777.4L864.1 775.4L866.2 773.4L868.5 771.4L870.7 769.6L873.0 767.8L875.4 766.1L877.8 764.5L880.3 763.0L882.8 761.6L885.4 760.3L888.0 759.0L890.7 757.9L893.4 757.0L896.1 756.1L898.9 755.4L901.7 754.9L904.5 754.5L907.4 754.2L910.2 754.2L913.1 754.3L915.9 754.7L918.8 755.2L921.6 755.9L924.5 756.8L927.3 757.7L930.1 758.9L932.8 760.1L935.6 761.4L938.2 762.8L940.9 764.3L943.5 765.8L946.0 767.4L948.5 769.0L951.0 770.7L953.4 772.5L955.8 774.2L958.1 776.1L960.3 777.9L962.6 779.8L964.8 781.8L966.9 783.8L969.0 785.8L971.1 787.9L973.2 790.0L975.2 792.2L977.1 794.4L979.1 796.6L981.0 798.8L982.8 801.1L984.7 803.4L986.5 805.8L988.3 808.2L990.0 810.6L991.7 813.0L993.4 815.5L995.1 818.0L996.8 820.5L998.4 823.0L1000.0 825.6L1001.5 828.2L1003.1 830.8L1004.6 833.4L1006.1 836.0L1007.6 838.7L1009.1 841.3L1010.6 844.0L1012.0 846.7L1013.4 849.4L1014.9 852.1L1016.3 854.8L1017.7 857.6L1019.0 860.3L1020.4 863.1L1021.8 865.8L1023.1 868.6L1024.5 871.3L1025.8 874.1L1027.1 876.8L1028.4 879.6L1029.8 882.4L1031.1 885.1L1032.4 887.9L1033.7 890.6L1035.0 893.4L1036.3 896.1L1037.6 898.9L1038.9 901.6L1040.2 904.4L1041.5 907.1L1042.8 909.9L1044.1 912.6L1045.4 915.4L1046.6 918.1L1047.9 920.9L1049.2 923.6L1050.5 926.3L1051.7 929.1L1053.0 931.8L1054.3 934.5L1055.5 937.3L1056.8 940.0L1058.0 942.8L1059.3 945.5L1060.5 948.2L1061.8 950.9L1063.1 953.7L1064.3 956.4L1065.6 959.1L1066.8 961.9L1068.0 964.6L1069.3 967.3L1070.5 970.0L1071.8 972.7L1073.0 975.5L1074.3 978.2L1075.5 980.9L1076.7 983.6L1078.0 986.3L1079.2 989.1L1080.5 991.8L1081.7 994.5L1082.9 997.2L1084.2 999.9L1085.4 1002.6L1086.7 1005.3L1087.9 1008.0L1089.1 1010.7L1090.4 1013.5L1091.6 1016.2L1092.9 1018.9L1094.1 1021.6L1095.3 1024.3L1096.6 1027.0L1097.8 1029.7L1099.1 1032.4L1100.3 1035.1L1101.6 1037.8L1102.8 1040.5L1104.1 1043.2L1105.3 1045.9L1106.6 1048.6L1107.8 1051.3L1109.1 1054.0L1110.4 1056.6L1111.6 1059.3L1112.9 1062.0L1114.2 1064.7L1115.4 1067.4L1116.7 1070.1L1118.0 1072.8L1119.3 1075.5L1120.5 1078.2L1121.8 1080.9L1123.1 1083.5L1124.4 1086.2L1125.7 1088.9L1127.0 1091.6L1128.3 1094.3L1129.6 1097.0L1130.9 1099.7L1132.2 1102.3L1133.5 1105.0L1134.8 1107.7L1136.1 1110.4L1137.5 1113.1L1138.8 1115.7L1140.1 1118.4L1141.5 1121.1L1142.8 1123.8L1144.2 1126.4L1145.5 1129.1L1146.9 1131.8L1148.2 1134.5L1149.6 1137.1L1151.0 1139.8L1152.3 1142.5L1153.7 1145.2L1155.1 1147.8L1156.5 1150.5L1157.9 1153.2L1159.3 1155.8L1160.7 1158.5L1162.1 1161.2L1163.5 1163.9L1164.9 1166.5L1166.4 1169.2L1167.8 1171.9L1169.2 1174.5L1170.7 1177.2L1172.1 1179.9L1173.6 1182.5L1175.1 1185.2L1176.5 1187.8L1178.0 1190.5L1179.5 1193.1L1181.0 1195.8L1182.5 1198.4L1184.0 1201.1L1185.5 1203.7L1187.1 1206.4L1188.6 1209.0L1190.1 1211.6L1191.7 1214.3L1193.2 1216.9L1194.8 1219.5L1196.4 1222.1L1197.9 1224.7L1199.5 1227.3L1201.1 1229.9L1202.7 1232.5L1204.3 1235.1L1206.0 1237.7L1207.6 1240.3L1209.2 1242.8L1210.9 1245.4L1212.5 1247.9L1214.2 1250.5L1215.9 1253.0L1217.6 1255.6L1219.3 1258.1L1221.0 1260.6L1222.7 1263.1L1224.4 1265.6L1226.1 1268.1L1227.9 1270.6L1229.6 1273.0L1231.4 1275.5L1233.2 1277.9L1235.0 1280.4L1236.8 1282.8L1238.6 1285.2L1240.4 1287.6L1242.2 1290.0L1244.1 1292.4L1245.9 1294.8L1247.8 1297.1L1249.6 1299.5L1251.5 1301.8L1253.4 1304.1L1255.3 1306.5L1257.2 1308.8L1259.2 1311.0L1261.1 1313.3L1263.1 1315.6L1265.1 1317.8L1267.0 1320.0L1269.0 1322.3L1271.0 1324.5L1273.1 1326.6L1275.1 1328.8L1277.1 1331.0L1279.2 1333.1L1281.3 1335.2L1283.3 1337.4L1285.4 1339.5L1287.5 1341.5L1289.7 1343.6L1291.8 1345.6L1294.0 1347.7L1296.1 1349.7L1298.3 1351.7L1300.5 1353.6L1302.7 1355.6L1304.9 1357.5L1307.2 1359.5L1309.4 1361.4L1311.7 1363.2L1314.0 1365.1L1316.2 1367.0L1318.6 1368.8L1320.9 1370.6L1323.2 1372.4L1325.6 1374.1L1327.9 1375.9L1330.3 1377.6L1332.7 1379.3L1335.2 1381.0L1337.6 1382.7L1340.0 1384.3L1342.5 1385.9L1345.0 1387.5L1347.5 1389.1L1350.0 1390.6L1352.5 1392.2L1355.1 1393.7L1357.6 1395.1L1360.2 1396.6L1362.8 1398.0L1365.4 1399.5L1368.0 1400.8L1370.7 1402.2L1373.3 1403.6L1376.0 1404.9L1378.7 1406.2L1381.4 1407.5L1384.1 1408.7L1386.8 1410.0L1389.6 1411.2L1392.3 1412.4L1395.1 1413.6L1397.9 1414.8L1400.7 1415.9L1403.5 1417.0L1406.3 1418.2L1409.1 1419.3L1411.9 1420.3L1414.8 1421.4L1417.6 1422.5L1420.5 1423.5L1423.3 1424.5L1426.2 1425.5L1429.1 1426.5L1432.0 1427.5L1434.9 1428.5L1437.8 1429.4L1440.7 1430.4L1443.6 1431.3L1446.5 1432.2L1449.5 1433.1L1452.4 1434.0L1455.3 1434.9L1458.3 1435.7L1461.2 1436.6L1464.2 1437.5L1467.1 1438.3L1470.1 1439.1L1473.0 1440.0L1476.0 1440.8L1478.9 1441.6L1481.9 1442.4L1484.9 1443.2L1487.8 1444.0L1490.8 1444.8L1493.7 1445.5L1496.7 1446.3L1499.7 1447.1L1502.6 1447.8L1505.6 1448.6L1508.5 1449.4L1511.5 1450.1L1514.4 1450.9L1517.4 1451.6L1520.3 1452.3L1523.3 1453.1L1526.2 1453.8L1529.1 1454.6L1532.1 1455.3L1535.0 1456.0L1537.9 1456.7L1540.8 1457.4L1543.8 1458.1L1546.7 1458.9L1549.6 1459.6L1552.5 1460.3L1555.5 1460.9L1558.4 1461.6L1561.3 1462.3L1564.2 1463.0L1567.1 1463.7L1570.0 1464.3L1572.9 1465.0L1575.9 1465.6L1578.8 1466.3L1581.7 1466.9L1584.6 1467.6L1587.5 1468.2L1590.4 1468.8L1593.3 1469.4L1596.2 1470.0L1599.2 1470.6L1602.1 1471.2L1605.0 1471.8L1607.9 1472.4L1610.8 1473.0L1613.7 1473.5L1616.6 1474.1L1619.6 1474.7L1622.5 1475.2L1625.4 1475.7L1628.3 1476.3L1631.2 1476.8L1634.2 1477.3L1637.1 1477.8L1640.0 1478.3L1643.0 1478.8L1645.9 1479.2L1648.8 1479.7L1651.8 1480.1L1654.7 1480.6L1657.7 1481.0L1660.6 1481.5L1663.6 1481.9L1666.5 1482.3L1669.5 1482.7L1672.4 1483.1L1675.4 1483.4L1678.3 1483.8L1681.3 1484.2L1684.3 1484.5L1687.2 1484.9L1690.2 1485.2L1693.2 1485.6L1696.2 1485.9L1699.1 1486.2L1702.1 1486.5L1705.1 1486.8L1708.1 1487.1L1711.1 1487.4L1714.0 1487.6L1717.0 1487.9L1720.0 1488.2L1723.0 1488.4L1726.0 1488.7L1729.0 1488.9L1732.0 1489.1L1735.0 1489.4L1738.0 1489.6L1741.0 1489.8L1744.0 1490.0L1747.0 1490.2L1750.0 1490.4L1753.0 1490.6L1756.0 1490.8L1759.0 1490.9L1762.0 1491.1L1765.0 1491.3L1768.1 1491.4L1771.1 1491.6L1774.1 1491.7L1777.1 1491.9L1780.1 1492.0L1783.1 1492.1L1786.1 1492.3L1789.2 1492.4L1792.2 1492.5L1795.2 1492.6L1798.2 1492.7L1801.2 1492.8L1804.3 1492.9L1807.3 1493.0L1810.3 1493.1L1813.3 1493.2L1816.4 1493.3L1819.4 1493.3L1822.4 1493.4L1825.4 1493.5L1828.5 1493.5L1831.5 1493.6L1834.5 1493.7L1837.5 1493.7L1840.6 1493.8L1843.6 1493.8L1846.6 1493.9L1849.6 1493.9L1852.7 1493.9L1855.7 1494.0L1858.7 1494.0L1861.7 1494.0L1864.8 1494.1L1867.8 1494.1L1870.8 1494.1L1873.8 1494.1L1876.9 1494.1L1879.9 1494.2L1882.9 1494.2L1885.9 1494.2L1889.0 1494.2L1892.0 1494.2L1895.0 1494.2L1898.0 1494.2L1901.0 1494.2L1904.1 1494.2L1907.1 1494.2L1910.1 1494.2L1913.1 1494.2L1916.1 1494.2L1919.1 1494.2L1922.2 1494.2L1925.2 1494.2L1928.2 1494.2L1931.2 1494.2L1934.2 1494.2L1937.2 1494.2L1940.2 1494.2L1943.2 1494.2L1946.2 1494.2L1949.2 1494.2L1952.2 1494.2L1955.2 1494.2L1958.2 1494.2L1961.2 1494.2L1964.2 1494.2L1967.2 1494.2L1970.2 1494.2L1973.2 1494.2L1976.2 1494.2L1979.2 1494.2L1982.2 1494.2L1985.2 1494.3L1988.2 1494.3L1991.1 1494.3L1994.1 1494.3L1997.1 1494.3L2000.1 1494.3L2003.0 1494.3L2006.0 1494.4L2009.0 1494.4L2012.0 1494.4L2014.9 1494.5L2017.9 1494.5L2020.8 1494.5L2023.8 1494.6L2026.8 1494.6L2029.7 1494.6L2032.7 1494.7L2035.6 1494.7L2038.6 1494.8L2041.5 1494.9L2044.4 1494.9" fill="none" stroke="#4472C4" stroke-width="9" stroke-linecap="round" stroke-linejoin="round" stroke-dasharray="27.0 37.0 27.0 38.7 27.0 37.8 27.0 37.8 27.0 37.5 27.0 37.4 27.0 35.9 27.0 37.6 27.0 37.6 27.0 36.2 27.0 37.8 27.0 37.1 27.0 37.1 27.0 37.1 27.0 37.0 27.0 35.5 27.0 36.7 27.0 39.2 27.0 35.6 27.0 37.8 27.0 35.6 27.0 38.5 27.0 37.3 27.0 38.1 27.0 35.4 27.0 38.0 27.0 37.0 27.0 37.9 27.0 35.7 27.0 37.0 27.0 37.1 27.0 36.0 27.0 38.4 27.0 37.2 27.0 36.2 27.0 38.0 27.0 36.6 27.0 39.1 27.0 37.0 27.0 2725.4" stroke-dashoffset="-0.6"/>
<path d="M270.9 1494.1L273.6 1494.0L276.3 1494.0L279.0 1493.9L281.7 1493.9L284.4 1493.8L287.2 1493.7L290.0 1493.6L292.8 1493.5L295.6 1493.4L298.4 1493.3L301.3 1493.2L304.2 1493.1L307.0 1492.9L309.9 1492.8L312.9 1492.6L315.8 1492.4L318.7 1492.2L321.7 1492.0L324.6 1491.8L327.6 1491.6L330.6 1491.3L333.6 1491.1L336.6 1490.8L339.6 1490.5L342.7 1490.2L345.7 1489.9L348.7 1489.6L351.8 1489.2L354.8 1488.9L357.9 1488.5L360.9 1488.1L364.0 1487.7L367.0 1487.2L370.1 1486.8L373.1 1486.3L376.2 1485.8L379.3 1485.3L382.3 1484.8L385.4 1484.2L388.4 1483.7L391.5 1483.1L394.5 1482.5L397.6 1481.9L400.6 1481.2L403.7 1480.5L406.7 1479.8L409.7 1479.1L412.7 1478.4L415.7 1477.6L418.7 1476.8L421.7 1476.0L424.7 1475.2L427.6 1474.3L430.6 1473.4L433.5 1472.5L436.4 1471.6L439.4 1470.6L442.3 1469.6L445.1 1468.6L448.0 1467.6L450.8 1466.5L453.7 1465.4L456.5 1464.3L459.3 1463.1L462.1 1461.9L464.8 1460.7L467.6 1459.5L470.3 1458.2L473.0 1456.9L475.6 1455.6L478.3 1454.2L480.9 1452.8L483.5 1451.4L486.1 1449.9L488.6 1448.4L491.1 1446.9L493.6 1445.3L496.1 1443.8L498.5 1442.1L500.9 1440.5L503.3 1438.8L505.6 1437.0L508.0 1435.3L510.3 1433.5L512.5 1431.7L514.7 1429.8L517.0 1427.9L519.1 1426.0L521.3 1424.0L523.4 1422.1L525.5 1420.1L527.6 1418.0L529.6 1416.0L531.6 1413.9L533.6 1411.7L535.6 1409.6L537.6 1407.4L539.5 1405.2L541.4 1403.0L543.3 1400.8L545.1 1398.5L547.0 1396.2L548.8 1393.9L550.6 1391.6L552.3 1389.2L554.1 1386.8L555.8 1384.4L557.5 1382.0L559.2 1379.6L560.9 1377.1L562.5 1374.6L564.2 1372.2L565.8 1369.7L567.4 1367.1L569.0 1364.6L570.5 1362.0L572.1 1359.5L573.6 1356.9L575.1 1354.3L576.6 1351.7L578.1 1349.1L579.6 1346.4L581.1 1343.8L582.5 1341.1L583.9 1338.5L585.4 1335.8L586.8 1333.1L588.2 1330.4L589.6 1327.7L590.9 1325.0L592.3 1322.3L593.6 1319.6L595.0 1316.8L596.3 1314.1L597.6 1311.4L598.9 1308.6L600.2 1305.9L601.5 1303.1L602.8 1300.4L604.1 1297.6L605.4 1294.9L606.6 1292.1L607.9 1289.4L609.2 1286.6L610.4 1283.8L611.6 1281.1L612.9 1278.3L614.1 1275.5L615.3 1272.8L616.5 1270.0L617.7 1267.2L618.9 1264.4L620.1 1261.6L621.2 1258.9L622.4 1256.1L623.6 1253.3L624.7 1250.5L625.9 1247.7L627.0 1244.9L628.2 1242.1L629.3 1239.3L630.4 1236.5L631.5 1233.8L632.6 1231.0L633.7 1228.1L634.8 1225.3L635.9 1222.5L637.0 1219.7L638.1 1216.9L639.2 1214.1L640.2 1211.3L641.3 1208.5L642.3 1205.7L643.4 1202.9L644.4 1200.0L645.5 1197.2L646.5 1194.4L647.5 1191.6L648.5 1188.7L649.5 1185.9L650.5 1183.1L651.5 1180.3L652.5 1177.4L653.5 1174.6L654.5 1171.8L655.5 1168.9L656.5 1166.1L657.4 1163.2L658.4 1160.4L659.3 1157.6L660.3 1154.7L661.2 1151.9L662.2 1149.0L663.1 1146.2L664.0 1143.3L665.0 1140.5L665.9 1137.6L666.8 1134.8L667.7 1131.9L668.6 1129.1L669.5 1126.2L670.4 1123.4L671.3 1120.5L672.2 1117.6L673.1 1114.8L673.9 1111.9L674.8 1109.0L675.7 1106.2L676.6 1103.3L677.4 1100.4L678.3 1097.6L679.1 1094.7L680.0 1091.8L680.8 1089.0L681.6 1086.1L682.5 1083.2L683.3 1080.3L684.1 1077.5L685.0 1074.6L685.8 1071.7L686.6 1068.8L687.4 1065.9L688.2 1063.1L689.0 1060.2L689.8 1057.3L690.6 1054.4L691.4 1051.5L692.2 1048.6L693.0 1045.7L693.8 1042.8L694.5 1040.0L695.3 1037.1L696.1 1034.2L696.8 1031.3L697.6 1028.4L698.4 1025.5L699.1 1022.6L699.9 1019.7L700.6 1016.8L701.4 1013.9L702.1 1011.0L702.9 1008.1L703.6 1005.2L704.4 1002.3L705.1 999.4L705.8 996.5L706.6 993.6L707.3 990.7L708.0 987.8L708.7 984.9L709.5 982.0L710.2 979.1L710.9 976.2L711.6 973.3L712.3 970.3L713.0 967.4L713.7 964.5L714.4 961.6L715.1 958.7L715.8 955.8L716.5 952.9L717.2 950.0L717.9 947.1L718.6 944.2L719.3 941.2L720.0 938.3L720.7 935.4L721.4 932.5L722.1 929.6L722.8 926.7L723.5 923.8L724.1 920.8L724.8 917.9L725.5 915.0L726.2 912.1L726.9 909.2L727.6 906.3L728.2 903.3L728.9 900.4L729.6 897.5L730.3 894.6L731.0 891.7L731.6 888.7L732.3 885.8L733.0 882.9L733.7 880.0L734.4 877.1L735.0 874.2L735.7 871.2L736.4 868.3L737.1 865.4L737.8 862.5L738.5 859.6L739.2 856.7L739.9 853.7L740.5 850.8L741.2 847.9L741.9 845.0L742.6 842.1L743.3 839.1L744.0 836.2L744.7 833.3L745.4 830.4L746.1 827.5L746.8 824.6L747.5 821.7L748.2 818.7L749.0 815.8L749.7 812.9L750.4 810.0L751.1 807.1L751.8 804.2L752.6 801.3L753.3 798.3L754.0 795.4L754.8 792.5L755.5 789.6L756.2 786.7L757.0 783.8L757.7 780.9L758.5 778.0L759.2 775.1L760.0 772.2L760.7 769.3L761.5 766.4L762.3 763.5L763.1 760.5L763.8 757.6L764.6 754.7L765.4 751.8L766.2 748.9L767.0 746.0L767.8 743.1L768.6 740.2L769.4 737.3L770.2 734.4L771.0 731.6L771.8 728.7L772.7 725.8L773.5 722.9L774.3 720.0L775.2 717.1L776.0 714.2L776.9 711.3L777.8 708.4L778.6 705.5L779.5 702.6L780.4 699.8L781.3 696.9L782.1 694.0L783.0 691.1L783.9 688.2L784.8 685.4L785.8 682.5L786.7 679.6L787.6 676.7L788.5 673.8L789.5 671.0L790.4 668.1L791.4 665.2L792.4 662.4L793.3 659.5L794.3 656.6L795.3 653.8L796.3 650.9L797.3 648.0L798.3 645.2L799.3 642.3L800.3 639.5L801.3 636.6L802.4 633.7L803.4 630.9L804.5 628.0L805.5 625.2L806.6 622.3L807.7 619.5L808.8 616.6L809.9 613.8L811.0 611.0L812.1 608.1L813.2 605.3L814.3 602.4L815.5 599.6L816.6 596.8L817.8 594.0L819.0 591.2L820.2 588.4L821.4 585.6L822.7 582.8L823.9 580.1L825.2 577.3L826.5 574.6L827.9 571.9L829.3 569.2L830.7 566.6L832.1 564.0L833.6 561.3L835.1 558.8L836.6 556.2L838.2 553.7L839.8 551.2L841.5 548.7L843.1 546.3L844.9 543.9L846.7 541.6L848.5 539.3L850.4 537.0L852.3 534.7L854.3 532.5L856.3 530.4L858.4 528.3L860.5 526.2L862.7 524.2L864.9 522.3L867.2 520.5L869.5 518.8L871.9 517.3L874.3 516.0L876.7 514.8L879.2 513.9L881.7 513.2L884.2 512.8L886.7 512.7L889.2 512.9L891.7 513.4L894.1 514.1L896.6 515.0L898.9 516.0L901.2 517.2L903.4 518.6L905.5 520.1L907.6 521.7L909.6 523.5L911.6 525.3L913.5 527.3L915.3 529.4L917.1 531.6L918.8 534.0L920.5 536.4L922.1 538.8L923.7 541.4L925.2 544.1L926.7 546.8L928.2 549.6L929.6 552.4L931.0 555.3L932.4 558.2L933.7 561.2L935.0 564.2L936.3 567.2L937.6 570.3L938.8 573.4L940.0 576.5L941.2 579.6L942.4 582.7L943.6 585.8L944.8 588.8L946.0 591.9L947.2 594.9L948.3 597.9L949.5 600.9L950.7 603.9L951.8 606.8L953.0 609.7L954.2 612.6L955.3 615.5L956.5 618.4L957.6 621.2L958.8 624.0L959.9 626.8L961.1 629.6L962.2 632.4L963.3 635.2L964.5 637.9L965.6 640.7L966.7 643.4L967.8 646.1L968.9 648.9L970.1 651.6L971.2 654.3L972.2 657.0L973.3 659.7L974.4 662.5L975.5 665.2L976.6 667.9L977.6 670.6L978.7 673.4L979.7 676.1L980.7 678.8L981.8 681.6L982.8 684.3L983.8 687.1L984.8 689.8L985.8 692.6L986.8 695.4L987.8 698.1L988.8 700.9L989.8 703.7L990.8 706.5L991.7 709.3L992.7 712.1L993.7 714.9L994.6 717.6L995.6 720.5L996.5 723.3L997.4 726.1L998.4 728.9L999.3 731.7L1000.2 734.5L1001.1 737.4L1002.0 740.2L1002.9 743.0L1003.8 745.8L1004.7 748.7L1005.6 751.5L1006.5 754.4L1007.4 757.2L1008.3 760.1L1009.1 762.9L1010.0 765.8L1010.9 768.6L1011.7 771.5L1012.6 774.4L1013.5 777.2L1014.3 780.1L1015.2 783.0L1016.0 785.8L1016.9 788.7L1017.7 791.6L1018.5 794.5L1019.4 797.4L1020.2 800.2L1021.0 803.1L1021.9 806.0L1022.7 808.9L1023.5 811.8L1024.3 814.7L1025.2 817.6L1026.0 820.5L1026.8 823.4L1027.6 826.3L1028.4 829.2L1029.2 832.1L1030.0 835.0L1030.9 837.9L1031.7 840.8L1032.5 843.7L1033.3 846.6L1034.1 849.5L1034.9 852.4L1035.7 855.3L1036.5 858.2L1037.3 861.2L1038.1 864.1L1038.9 867.0L1039.7 869.9L1040.5 872.8L1041.3 875.7L1042.1 878.6L1042.9 881.5L1043.7 884.5L1044.5 887.4L1045.3 890.3L1046.2 893.2L1047.0 896.1L1047.8 899.0L1048.6 901.9L1049.4 904.9L1050.2 907.8L1051.0 910.7L1051.8 913.6L1052.6 916.5L1053.5 919.4L1054.3 922.3L1055.1 925.2L1055.9 928.1L1056.8 931.0L1057.6 933.9L1058.4 936.9L1059.3 939.8L1060.1 942.7L1060.9 945.6L1061.8 948.5L1062.6 951.4L1063.5 954.3L1064.3 957.1L1065.2 960.0L1066.0 962.9L1066.9 965.8L1067.8 968.7L1068.6 971.6L1069.5 974.5L1070.4 977.4L1071.2 980.2L1072.1 983.1L1073.0 986.0L1073.9 988.9L1074.8 991.7L1075.7 994.6L1076.6 997.5L1077.5 1000.3L1078.4 1003.2L1079.4 1006.1L1080.3 1008.9L1081.2 1011.8L1082.1 1014.6L1083.1 1017.5L1084.0 1020.3L1085.0 1023.2L1085.9 1026.0L1086.9 1028.8L1087.9 1031.7L1088.8 1034.5L1089.8 1037.3L1090.8 1040.1L1091.8 1043.0L1092.8 1045.8L1093.8 1048.6L1094.8 1051.4L1095.8 1054.2L1096.8 1057.0L1097.8 1059.8L1098.9 1062.6L1099.9 1065.5L1100.9 1068.3L1102.0 1071.0L1103.0 1073.8L1104.1 1076.6L1105.1 1079.4L1106.2 1082.2L1107.2 1085.0L1108.3 1087.8L1109.4 1090.6L1110.5 1093.4L1111.5 1096.1L1112.6 1098.9L1113.7 1101.7L1114.8 1104.5L1115.9 1107.2L1117.0 1110.0L1118.1 1112.8L1119.2 1115.5L1120.4 1118.3L1121.5 1121.1L1122.6 1123.8L1123.7 1126.6L1124.9 1129.4L1126.0 1132.1L1127.2 1134.9L1128.3 1137.7L1129.5 1140.4L1130.6 1143.2L1131.8 1145.9L1132.9 1148.7L1134.1 1151.4L1135.3 1154.2L1136.5 1156.9L1137.6 1159.7L1138.8 1162.5L1140.0 1165.2L1141.2 1168.0L1142.4 1170.7L1143.6 1173.5L1144.8 1176.2L1146.0 1179.0L1147.2 1181.7L1148.4 1184.5L1149.7 1187.2L1150.9 1190.0L1152.1 1192.7L1153.3 1195.5L1154.6 1198.2L1155.8 1201.0L1157.1 1203.7L1158.3 1206.4L1159.6 1209.2L1160.8 1211.9L1162.1 1214.7L1163.4 1217.4L1164.6 1220.1L1165.9 1222.9L1167.2 1225.6L1168.5 1228.3L1169.8 1231.0L1171.2 1233.7L1172.5 1236.4L1173.8 1239.1L1175.2 1241.8L1176.5 1244.5L1177.9 1247.2L1179.2 1249.9L1180.6 1252.6L1182.0 1255.2L1183.4 1257.9L1184.8 1260.6L1186.3 1263.2L1187.7 1265.9L1189.2 1268.5L1190.6 1271.1L1192.1 1273.8L1193.6 1276.4L1195.1 1279.0L1196.6 1281.6L1198.1 1284.2L1199.7 1286.7L1201.2 1289.3L1202.8 1291.9L1204.4 1294.4L1206.0 1297.0L1207.6 1299.5L1209.2 1302.0L1210.8 1304.5L1212.5 1307.0L1214.2 1309.5L1215.9 1312.0L1217.6 1314.4L1219.3 1316.9L1221.0 1319.3L1222.8 1321.7L1224.6 1324.2L1226.4 1326.6L1228.2 1328.9L1230.0 1331.3L1231.9 1333.7L1233.7 1336.0L1235.6 1338.4L1237.5 1340.7L1239.5 1343.0L1241.4 1345.3L1243.4 1347.5L1245.4 1349.8L1247.4 1352.0L1249.4 1354.3L1251.4 1356.5L1253.5 1358.7L1255.6 1360.8L1257.7 1363.0L1259.8 1365.1L1262.0 1367.3L1264.1 1369.4L1266.3 1371.4L1268.5 1373.5L1270.7 1375.6L1272.9 1377.6L1275.2 1379.6L1277.4 1381.6L1279.7 1383.6L1282.0 1385.5L1284.3 1387.4L1286.6 1389.3L1289.0 1391.2L1291.4 1393.1L1293.7 1394.9L1296.1 1396.8L1298.5 1398.6L1301.0 1400.3L1303.4 1402.1L1305.9 1403.8L1308.3 1405.5L1310.8 1407.2L1313.3 1408.9L1315.8 1410.5L1318.4 1412.1L1320.9 1413.7L1323.5 1415.3L1326.0 1416.8L1328.6 1418.3L1331.2 1419.8L1333.8 1421.3L1336.5 1422.7L1339.1 1424.1L1341.8 1425.5L1344.4 1426.8L1347.1 1428.2L1349.8 1429.5L1352.5 1430.7L1355.2 1432.0L1358.0 1433.2L1360.7 1434.4L1363.4 1435.5L1366.2 1436.6L1369.0 1437.7L1371.8 1438.8L1374.6 1439.8L1377.4 1440.8L1380.2 1441.8L1383.0 1442.7L1385.9 1443.7L1388.7 1444.5L1391.6 1445.4L1394.5 1446.2L1397.4 1447.0L1400.3 1447.7L1403.2 1448.4L1406.1 1449.1L1409.0 1449.8L1411.9 1450.4L1414.8 1451.1L1417.8 1451.7L1420.7 1452.2L1423.7 1452.8L1426.6 1453.4L1429.6 1453.9L1432.6 1454.4L1435.5 1454.9L1438.5 1455.4L1441.5 1455.9L1444.5 1456.4L1447.5 1456.8L1450.5 1457.3L1453.4 1457.8L1456.4 1458.2L1459.4 1458.7L1462.4 1459.2L1465.4 1459.6L1468.4 1460.1L1471.4 1460.6L1474.4 1461.1L1477.3 1461.5L1480.3 1462.1L1483.3 1462.6L1486.3 1463.1L1489.2 1463.6L1492.2 1464.2L1495.2 1464.8L1498.1 1465.4L1501.1 1466.0L1504.1 1466.6L1507.0 1467.2L1510.0 1467.8L1512.9 1468.4L1515.8 1469.1L1518.8 1469.7L1521.7 1470.3L1524.7 1471.0L1527.6 1471.6L1530.6 1472.3L1533.5 1472.9L1536.4 1473.6L1539.4 1474.2L1542.3 1474.8L1545.2 1475.5L1548.2 1476.1L1551.1 1476.7L1554.0 1477.4L1557.0 1478.0L1559.9 1478.6L1562.9 1479.2L1565.8 1479.7L1568.7 1480.3L1571.7 1480.9L1574.6 1481.4L1577.6 1481.9L1580.5 1482.5L1583.5 1483.0L1586.4 1483.5L1589.4 1483.9L1592.3 1484.4L1595.3 1484.9L1598.3 1485.3L1601.2 1485.8L1604.2 1486.2L1607.1 1486.6L1610.1 1487.0L1613.1 1487.4L1616.0 1487.8L1619.0 1488.2L1622.0 1488.6L1624.9 1488.9L1627.9 1489.3L1630.9 1489.6L1633.8 1490.0L1636.8 1490.3L1639.8 1490.6L1642.7 1490.9L1645.7 1491.2L1648.7 1491.5L1651.7 1491.7L1654.7 1492.0L1657.6 1492.3L1660.6 1492.5L1663.6 1492.8L1666.6 1493.0L1669.6 1493.2L1672.6 1493.4L1675.5 1493.6L1678.5 1493.8L1681.5 1494.0L1684.5 1494.2L1687.5 1494.4L1690.5 1494.6L1693.5 1494.7L1696.5 1494.9L1699.5 1495.0L1702.4 1495.2L1705.4 1495.3L1708.4 1495.5L1711.4 1495.6L1714.4 1495.7L1717.4 1495.8L1720.4 1495.9L1723.4 1496.0L1726.4 1496.1L1729.4 1496.2L1732.4 1496.3L1735.4 1496.4L1738.4 1496.4L1741.4 1496.5L1744.4 1496.6L1747.4 1496.6L1750.4 1496.7L1753.4 1496.7L1756.4 1496.7L1759.4 1496.8L1762.4 1496.8L1765.5 1496.8L1768.5 1496.9L1771.5 1496.9L1774.5 1496.9L1777.5 1496.9L1780.5 1496.9L1783.5 1496.9L1786.5 1496.9L1789.5 1496.9L1792.5 1496.9L1795.5 1496.9L1798.5 1496.9L1801.6 1496.9L1804.6 1496.9L1807.6 1496.8L1810.6 1496.8L1813.6 1496.8L1816.6 1496.8L1819.6 1496.7L1822.6 1496.7L1825.6 1496.7L1828.7 1496.6L1831.7 1496.6L1834.7 1496.6L1837.7 1496.5L1840.7 1496.5L1843.7 1496.4L1846.7 1496.4L1849.7 1496.4L1852.7 1496.3L1855.8 1496.3L1858.8 1496.2L1861.8 1496.2L1864.8 1496.1L1867.8 1496.1L1870.8 1496.0L1873.8 1496.0L1876.8 1495.9L1879.9 1495.9L1882.9 1495.8L1885.9 1495.8L1888.9 1495.7L1891.9 1495.7L1894.9 1495.7L1897.9 1495.6L1900.9 1495.6L1903.9 1495.5L1906.9 1495.5L1910.0 1495.4L1913.0 1495.4L1916.0 1495.4L1919.0 1495.3L1922.0 1495.3L1925.0 1495.3L1928.0 1495.2L1931.0 1495.2L1934.0 1495.2L1937.0 1495.2L1940.0 1495.2L1943.0 1495.1L1946.0 1495.1L1949.0 1495.1L1952.0 1495.1L1955.0 1495.1L1958.0 1495.1L1961.0 1495.1L1964.0 1495.1L1967.0 1495.1L1970.0 1495.1L1973.0 1495.2L1976.0 1495.2L1979.0 1495.2L1982.0 1495.2L1985.0 1495.3L1988.0 1495.3L1991.0 1495.4L1994.0 1495.4L1997.0 1495.5L2000.0 1495.5L2003.0 1495.6L2006.0 1495.7L2009.0 1495.7L2012.0 1495.8L2015.0 1495.9L2017.9 1496.0L2020.9 1496.1L2023.9 1496.2L2026.9 1496.3L2029.9 1496.4L2032.9 1496.5L2035.9 1496.7L2038.8 1496.8L2041.8 1496.9L2044.8 1497.1" fill="none" stroke="#FFC000" stroke-width="9" stroke-linecap="round" stroke-linejoin="round" stroke-dasharray="26.9 37.0 27.0 37.0 27.0 37.3 27.0 37.3 27.0 39.2 27.0 36.4 27.0 36.6 27.0 37.7 27.0 36.0 27.0 37.4 27.0 37.4 27.0 37.4 27.0 35.9 27.0 39.0 27.0 36.0 27.0 36.2 27.0 38.0 27.0 36.9 27.0 37.0 27.0 34.0 27.0 37.6 27.0 38.6 27.0 34.8 27.0 36.7 27.0 39.0 27.0 36.4 27.0 34.9 27.0 37.8 27.0 38.9 27.0 35.7 27.0 37.4 27.0 37.7 27.0 36.2 27.0 39.0 27.0 36.2 27.0 36.0 27.0 38.8 27.0 36.3 27.0 36.4 27.0 39.0 27.0 35.7 27.0 37.4 27.0 36.2 27.0 37.7 27.0 36.2 27.0 37.6 27.0 37.0 27.0 3223.6" stroke-dashoffset="-0.0"/>
<path d="M269.4 1494.9L272.3 1494.8L275.2 1494.7L278.2 1494.6L281.1 1494.6L284.0 1494.5L286.9 1494.3L289.9 1494.2L292.8 1494.1L295.8 1494.0L298.7 1493.8L301.7 1493.7L304.7 1493.5L307.7 1493.3L310.6 1493.1L313.6 1493.0L316.6 1492.7L319.6 1492.5L322.6 1492.3L325.6 1492.1L328.6 1491.8L331.5 1491.6L334.5 1491.3L337.5 1491.0L340.5 1490.7L343.5 1490.4L346.5 1490.1L349.6 1489.7L352.6 1489.4L355.6 1489.0L358.6 1488.7L361.6 1488.3L364.6 1487.9L367.6 1487.5L370.6 1487.0L373.6 1486.6L376.6 1486.1L379.5 1485.7L382.5 1485.2L385.5 1484.7L388.5 1484.2L391.5 1483.6L394.5 1483.1L397.4 1482.5L400.4 1481.9L403.4 1481.3L406.3 1480.7L409.3 1480.1L412.2 1479.5L415.2 1478.8L418.1 1478.1L421.1 1477.4L424.0 1476.7L426.9 1476.0L429.8 1475.3L432.7 1474.5L435.6 1473.7L438.5 1472.9L441.4 1472.1L444.3 1471.3L447.2 1470.4L450.0 1469.5L452.9 1468.6L455.7 1467.7L458.6 1466.8L461.4 1465.8L464.2 1464.9L467.0 1463.9L469.8 1462.9L472.6 1461.8L475.4 1460.8L478.1 1459.7L480.9 1458.6L483.6 1457.5L486.4 1456.4L489.1 1455.3L491.8 1454.1L494.6 1452.9L497.3 1451.8L500.0 1450.6L502.7 1449.4L505.4 1448.1L508.1 1446.9L510.8 1445.6L513.5 1444.4L516.1 1443.1L518.8 1441.8L521.5 1440.5L524.2 1439.2L526.8 1437.9L529.5 1436.6L532.2 1435.2L534.8 1433.9L537.5 1432.5L540.2 1431.2L542.9 1429.8L545.5 1428.4L548.2 1427.0L550.9 1425.7L553.5 1424.3L556.2 1422.9L558.9 1421.5L561.6 1420.1L564.3 1418.7L566.9 1417.2L569.6 1415.8L572.3 1414.4L575.0 1413.0L577.7 1411.5L580.3 1410.1L583.0 1408.6L585.7 1407.2L588.3 1405.7L591.0 1404.2L593.6 1402.7L596.3 1401.2L598.9 1399.6L601.5 1398.1L604.1 1396.5L606.7 1394.9L609.3 1393.4L611.9 1391.7L614.4 1390.1L617.0 1388.5L619.5 1386.8L622.0 1385.1L624.5 1383.4L626.9 1381.7L629.4 1380.0L631.8 1378.2L634.2 1376.4L636.6 1374.6L639.0 1372.8L641.3 1370.9L643.7 1369.0L646.0 1367.1L648.3 1365.2L650.5 1363.3L652.8 1361.3L655.0 1359.4L657.3 1357.4L659.5 1355.4L661.6 1353.4L663.8 1351.3L666.0 1349.2L668.1 1347.2L670.2 1345.1L672.3 1343.0L674.4 1340.8L676.4 1338.7L678.5 1336.5L680.5 1334.3L682.5 1332.1L684.5 1329.9L686.5 1327.7L688.4 1325.5L690.4 1323.2L692.3 1320.9L694.2 1318.6L696.1 1316.3L698.0 1314.0L699.9 1311.7L701.7 1309.4L703.5 1307.0L705.4 1304.6L707.2 1302.3L708.9 1299.9L710.7 1297.5L712.5 1295.1L714.2 1292.6L715.9 1290.2L717.7 1287.7L719.4 1285.3L721.0 1282.8L722.7 1280.3L724.4 1277.8L726.0 1275.3L727.6 1272.8L729.3 1270.3L730.9 1267.8L732.5 1265.2L734.0 1262.7L735.6 1260.1L737.1 1257.6L738.7 1255.0L740.2 1252.4L741.7 1249.8L743.2 1247.2L744.7 1244.6L746.2 1242.0L747.7 1239.4L749.1 1236.8L750.5 1234.2L752.0 1231.5L753.4 1228.9L754.8 1226.3L756.2 1223.6L757.6 1221.0L759.0 1218.3L760.3 1215.6L761.7 1212.9L763.0 1210.3L764.3 1207.6L765.7 1204.9L767.0 1202.2L768.3 1199.5L769.6 1196.8L770.9 1194.1L772.1 1191.4L773.4 1188.7L774.7 1185.9L775.9 1183.2L777.1 1180.5L778.4 1177.7L779.6 1175.0L780.8 1172.2L782.0 1169.5L783.2 1166.7L784.4 1164.0L785.6 1161.2L786.8 1158.5L787.9 1155.7L789.1 1152.9L790.2 1150.1L791.4 1147.4L792.5 1144.6L793.7 1141.8L794.8 1139.0L795.9 1136.2L797.0 1133.4L798.1 1130.6L799.2 1127.8L800.3 1125.0L801.4 1122.2L802.5 1119.4L803.6 1116.6L804.7 1113.8L805.7 1111.0L806.8 1108.2L807.9 1105.3L808.9 1102.5L810.0 1099.7L811.0 1096.9L812.1 1094.1L813.1 1091.2L814.1 1088.4L815.2 1085.6L816.2 1082.8L817.2 1079.9L818.2 1077.1L819.3 1074.3L820.3 1071.4L821.3 1068.6L822.3 1065.8L823.3 1062.9L824.3 1060.1L825.3 1057.3L826.3 1054.4L827.3 1051.6L828.3 1048.7L829.3 1045.9L830.3 1043.1L831.2 1040.2L832.2 1037.4L833.2 1034.5L834.2 1031.7L835.1 1028.8L836.1 1026.0L837.1 1023.1L838.0 1020.3L839.0 1017.4L840.0 1014.6L840.9 1011.7L841.9 1008.9L842.8 1006.0L843.8 1003.2L844.7 1000.3L845.6 997.5L846.6 994.6L847.5 991.8L848.5 988.9L849.4 986.0L850.3 983.2L851.2 980.3L852.2 977.5L853.1 974.6L854.0 971.7L854.9 968.9L855.8 966.0L856.8 963.2L857.7 960.3L858.6 957.4L859.5 954.6L860.4 951.7L861.3 948.8L862.2 946.0L863.1 943.1L864.0 940.2L864.9 937.4L865.8 934.5L866.7 931.6L867.6 928.8L868.4 925.9L869.3 923.0L870.2 920.1L871.1 917.3L872.0 914.4L872.9 911.5L873.7 908.7L874.6 905.8L875.5 902.9L876.3 900.0L877.2 897.2L878.1 894.3L879.0 891.4L879.8 888.5L880.7 885.7L881.5 882.8L882.4 879.9L883.3 877.0L884.1 874.2L885.0 871.3L885.8 868.4L886.7 865.5L887.5 862.7L888.4 859.8L889.2 856.9L890.1 854.0L890.9 851.1L891.8 848.3L892.6 845.4L893.5 842.5L894.3 839.6L895.2 836.7L896.0 833.9L896.8 831.0L897.7 828.1L898.5 825.2L899.4 822.3L900.2 819.5L901.0 816.6L901.9 813.7L902.7 810.8L903.5 807.9L904.4 805.1L905.2 802.2L906.0 799.3L906.9 796.4L907.7 793.5L908.5 790.7L909.4 787.8L910.2 784.9L911.0 782.0L911.8 779.1L912.7 776.3L913.5 773.4L914.3 770.5L915.1 767.6L916.0 764.7L916.8 761.9L917.6 759.0L918.4 756.1L919.3 753.2L920.1 750.3L920.9 747.5L921.7 744.6L922.6 741.7L923.4 738.8L924.2 736.0L925.0 733.1L925.9 730.2L926.7 727.3L927.5 724.4L928.3 721.6L929.2 718.7L930.0 715.8L930.8 712.9L931.7 710.1L932.5 707.2L933.3 704.3L934.2 701.5L935.0 698.6L935.9 695.7L936.7 692.8L937.6 690.0L938.4 687.1L939.3 684.2L940.2 681.4L941.0 678.5L941.9 675.7L942.8 672.8L943.7 669.9L944.6 667.1L945.5 664.2L946.4 661.4L947.3 658.5L948.3 655.7L949.2 652.8L950.2 650.0L951.1 647.2L952.1 644.3L953.0 641.5L954.0 638.6L955.0 635.8L956.0 633.0L957.0 630.1L958.0 627.3L959.0 624.5L960.1 621.7L961.1 618.9L962.2 616.0L963.3 613.2L964.3 610.4L965.4 607.6L966.5 604.8L967.7 602.0L968.8 599.2L970.0 596.4L971.1 593.6L972.3 590.8L973.5 588.0L974.7 585.3L975.9 582.5L977.1 579.7L978.4 576.9L979.6 574.2L980.9 571.4L982.2 568.6L983.5 565.9L984.8 563.1L986.2 560.4L987.6 557.7L989.0 554.9L990.4 552.2L991.9 549.5L993.4 546.9L994.9 544.2L996.5 541.6L998.2 539.0L999.9 536.4L1001.6 533.9L1003.4 531.4L1005.3 528.9L1007.3 526.5L1009.3 524.1L1011.4 521.7L1013.5 519.4L1015.8 517.2L1018.1 515.0L1020.6 512.9L1023.1 510.8L1025.6 508.8L1028.2 506.9L1030.9 505.2L1033.6 503.5L1036.3 502.0L1039.0 500.7L1041.7 499.5L1044.4 498.4L1047.1 497.6L1049.8 497.0L1052.4 496.5L1055.0 496.3L1057.6 496.3L1060.1 496.5L1062.6 496.8L1065.1 497.4L1067.5 498.1L1069.9 499.0L1072.2 500.0L1074.5 501.2L1076.8 502.5L1079.0 503.9L1081.2 505.5L1083.4 507.2L1085.6 508.9L1087.7 510.8L1089.7 512.8L1091.8 514.9L1093.8 517.0L1095.7 519.3L1097.7 521.6L1099.6 523.9L1101.5 526.3L1103.3 528.7L1105.1 531.2L1106.9 533.7L1108.7 536.2L1110.4 538.7L1112.1 541.2L1113.7 543.7L1115.4 546.3L1117.0 548.9L1118.6 551.5L1120.1 554.1L1121.6 556.7L1123.1 559.3L1124.6 561.9L1126.1 564.6L1127.5 567.2L1128.9 569.9L1130.3 572.6L1131.6 575.2L1133.0 577.9L1134.3 580.6L1135.6 583.4L1136.9 586.1L1138.1 588.8L1139.4 591.6L1140.6 594.3L1141.8 597.1L1143.0 599.8L1144.2 602.6L1145.3 605.4L1146.5 608.2L1147.6 611.0L1148.7 613.8L1149.8 616.6L1150.9 619.4L1151.9 622.2L1153.0 625.0L1154.1 627.8L1155.1 630.7L1156.1 633.5L1157.2 636.3L1158.2 639.2L1159.2 642.0L1160.2 644.9L1161.2 647.7L1162.1 650.6L1163.1 653.5L1164.1 656.3L1165.1 659.2L1166.0 662.0L1167.0 664.9L1167.9 667.8L1168.9 670.6L1169.9 673.5L1170.8 676.4L1171.8 679.3L1172.7 682.1L1173.7 685.0L1174.6 687.9L1175.6 690.7L1176.5 693.6L1177.5 696.4L1178.5 699.3L1179.4 702.2L1180.4 705.0L1181.4 707.9L1182.4 710.7L1183.4 713.6L1184.4 716.4L1185.4 719.2L1186.4 722.1L1187.4 724.9L1188.4 727.7L1189.5 730.6L1190.5 733.4L1191.6 736.2L1192.6 739.0L1193.7 741.8L1194.8 744.6L1195.8 747.4L1196.9 750.2L1198.0 753.0L1199.1 755.8L1200.2 758.6L1201.3 761.4L1202.4 764.2L1203.5 767.0L1204.7 769.7L1205.8 772.5L1206.9 775.3L1208.0 778.1L1209.2 780.8L1210.3 783.6L1211.4 786.4L1212.6 789.2L1213.7 791.9L1214.8 794.7L1216.0 797.5L1217.1 800.2L1218.3 803.0L1219.4 805.8L1220.6 808.5L1221.7 811.3L1222.9 814.1L1224.0 816.8L1225.1 819.6L1226.3 822.4L1227.4 825.1L1228.6 827.9L1229.7 830.7L1230.8 833.4L1232.0 836.2L1233.1 839.0L1234.2 841.8L1235.4 844.5L1236.5 847.3L1237.6 850.1L1238.7 852.9L1239.8 855.6L1241.0 858.4L1242.1 861.2L1243.2 864.0L1244.3 866.8L1245.3 869.6L1246.4 872.4L1247.5 875.2L1248.6 878.0L1249.7 880.8L1250.7 883.6L1251.8 886.4L1252.8 889.2L1253.9 892.0L1254.9 894.8L1255.9 897.7L1256.9 900.5L1257.9 903.3L1259.0 906.2L1260.0 909.0L1261.0 911.8L1262.0 914.7L1263.0 917.5L1263.9 920.4L1264.9 923.2L1265.9 926.0L1266.9 928.9L1267.9 931.7L1268.8 934.6L1269.8 937.4L1270.8 940.3L1271.8 943.1L1272.7 946.0L1273.7 948.9L1274.7 951.7L1275.7 954.6L1276.6 957.4L1277.6 960.3L1278.6 963.1L1279.6 966.0L1280.6 968.8L1281.5 971.7L1282.5 974.5L1283.5 977.3L1284.5 980.2L1285.5 983.0L1286.5 985.9L1287.5 988.7L1288.5 991.5L1289.6 994.4L1290.6 997.2L1291.6 1000.0L1292.7 1002.8L1293.7 1005.7L1294.8 1008.5L1295.8 1011.3L1296.9 1014.1L1298.0 1016.9L1299.1 1019.7L1300.2 1022.5L1301.3 1025.3L1302.4 1028.1L1303.5 1030.9L1304.6 1033.6L1305.8 1036.4L1306.9 1039.2L1308.1 1042.0L1309.3 1044.7L1310.5 1047.5L1311.7 1050.2L1312.9 1052.9L1314.1 1055.7L1315.4 1058.4L1316.6 1061.1L1317.9 1063.8L1319.2 1066.6L1320.5 1069.3L1321.8 1072.0L1323.1 1074.6L1324.5 1077.3L1325.8 1080.0L1327.2 1082.7L1328.6 1085.3L1330.0 1088.0L1331.4 1090.6L1332.8 1093.3L1334.2 1095.9L1335.7 1098.5L1337.1 1101.2L1338.6 1103.8L1340.1 1106.4L1341.6 1109.0L1343.1 1111.6L1344.6 1114.1L1346.1 1116.7L1347.7 1119.3L1349.2 1121.9L1350.8 1124.4L1352.4 1127.0L1354.0 1129.5L1355.6 1132.0L1357.2 1134.6L1358.8 1137.1L1360.5 1139.6L1362.1 1142.1L1363.8 1144.6L1365.5 1147.1L1367.1 1149.6L1368.8 1152.0L1370.6 1154.5L1372.3 1156.9L1374.0 1159.4L1375.8 1161.8L1377.5 1164.3L1379.3 1166.7L1381.0 1169.1L1382.8 1171.5L1384.6 1173.9L1386.4 1176.3L1388.3 1178.7L1390.1 1181.1L1391.9 1183.4L1393.8 1185.8L1395.6 1188.2L1397.5 1190.5L1399.4 1192.8L1401.3 1195.2L1403.2 1197.5L1405.1 1199.8L1407.0 1202.1L1409.0 1204.4L1410.9 1206.7L1412.8 1208.9L1414.8 1211.2L1416.8 1213.5L1418.8 1215.7L1420.7 1218.0L1422.7 1220.2L1424.8 1222.4L1426.8 1224.6L1428.8 1226.9L1430.8 1229.1L1432.9 1231.3L1434.9 1233.4L1437.0 1235.6L1439.0 1237.8L1441.1 1240.0L1443.2 1242.1L1445.3 1244.3L1447.4 1246.4L1449.5 1248.6L1451.6 1250.7L1453.7 1252.8L1455.8 1254.9L1458.0 1257.1L1460.1 1259.2L1462.3 1261.3L1464.4 1263.4L1466.6 1265.5L1468.7 1267.5L1470.9 1269.6L1473.1 1271.7L1475.3 1273.8L1477.4 1275.8L1479.6 1277.9L1481.8 1279.9L1484.0 1282.0L1486.2 1284.0L1488.4 1286.1L1490.7 1288.1L1492.9 1290.1L1495.1 1292.2L1497.3 1294.2L1499.6 1296.2L1501.8 1298.2L1504.0 1300.2L1506.3 1302.2L1508.5 1304.2L1510.8 1306.2L1513.0 1308.2L1515.3 1310.2L1517.6 1312.2L1519.8 1314.2L1522.1 1316.1L1524.4 1318.1L1526.6 1320.1L1528.9 1322.1L1531.2 1324.0L1533.4 1326.0L1535.7 1328.0L1538.0 1329.9L1540.3 1331.9L1542.6 1333.9L1544.9 1335.8L1547.1 1337.8L1549.4 1339.7L1551.7 1341.6L1554.0 1343.6L1556.3 1345.5L1558.6 1347.4L1560.9 1349.3L1563.3 1351.3L1565.6 1353.2L1567.9 1355.0L1570.3 1356.9L1572.6 1358.8L1575.0 1360.6L1577.3 1362.5L1579.7 1364.3L1582.1 1366.1L1584.5 1367.9L1586.9 1369.7L1589.3 1371.4L1591.7 1373.2L1594.1 1374.9L1596.6 1376.6L1599.0 1378.3L1601.5 1380.0L1604.0 1381.6L1606.5 1383.2L1609.0 1384.8L1611.6 1386.4L1614.1 1388.0L1616.7 1389.5L1619.2 1391.0L1621.8 1392.5L1624.5 1393.9L1627.1 1395.3L1629.7 1396.7L1632.4 1398.1L1635.1 1399.4L1637.8 1400.8L1640.5 1402.1L1643.2 1403.3L1646.0 1404.6L1648.7 1405.8L1651.5 1407.0L1654.3 1408.2L1657.0 1409.3L1659.8 1410.4L1662.7 1411.5L1665.5 1412.6L1668.3 1413.7L1671.1 1414.7L1674.0 1415.7L1676.8 1416.7L1679.7 1417.7L1682.6 1418.6L1685.4 1419.6L1688.3 1420.5L1691.2 1421.4L1694.1 1422.3L1697.0 1423.1L1699.9 1423.9L1702.8 1424.8L1705.7 1425.6L1708.6 1426.4L1711.5 1427.1L1714.4 1427.9L1717.3 1428.6L1720.2 1429.3L1723.1 1430.0L1726.1 1430.7L1729.0 1431.4L1731.9 1432.0L1734.8 1432.7L1737.8 1433.3L1740.7 1433.9L1743.7 1434.5L1746.6 1435.1L1749.5 1435.7L1752.5 1436.3L1755.4 1436.8L1758.4 1437.3L1761.3 1437.9L1764.3 1438.4L1767.2 1438.9L1770.2 1439.4L1773.2 1439.9L1776.1 1440.3L1779.1 1440.8L1782.0 1441.3L1785.0 1441.7L1788.0 1442.1L1790.9 1442.6L1793.9 1443.0L1796.9 1443.4L1799.9 1443.8L1802.8 1444.2L1805.8 1444.6L1808.8 1444.9L1811.8 1445.3L1814.8 1445.7L1817.7 1446.0L1820.7 1446.4L1823.7 1446.8L1826.7 1447.1L1829.7 1447.4L1832.7 1447.8L1835.6 1448.1L1838.6 1448.4L1841.6 1448.8L1844.6 1449.1L1847.6 1449.4L1850.6 1449.7L1853.6 1450.0L1856.6 1450.4L1859.5 1450.7L1862.5 1451.0L1865.5 1451.3L1868.5 1451.6L1871.5 1451.9L1874.5 1452.2L1877.5 1452.5L1880.5 1452.8L1883.5 1453.2L1886.4 1453.5L1889.4 1453.8L1892.4 1454.1L1895.4 1454.4L1898.4 1454.7L1901.4 1455.0L1904.4 1455.3L1907.4 1455.6L1910.4 1455.9L1913.3 1456.2L1916.3 1456.5L1919.3 1456.8L1922.3 1457.1L1925.3 1457.5L1928.3 1457.8L1931.3 1458.1L1934.3 1458.3L1937.3 1458.6L1940.2 1458.9L1943.2 1459.2L1946.2 1459.5L1949.2 1459.8L1952.2 1460.1L1955.2 1460.4L1958.2 1460.7L1961.2 1461.0L1964.2 1461.2L1967.2 1461.5L1970.1 1461.8L1973.1 1462.1L1976.1 1462.3L1979.1 1462.6L1982.1 1462.9L1985.1 1463.1L1988.1 1463.4L1991.1 1463.6L1994.1 1463.9L1997.1 1464.1L2000.1 1464.4L2003.1 1464.6L2006.1 1464.9L2009.0 1465.1L2012.0 1465.3L2015.0 1465.6L2018.0 1465.8L2021.0 1466.0L2024.0 1466.2L2027.0 1466.5L2030.0 1466.7L2033.0 1466.9L2036.0 1467.1L2039.0 1467.3L2042.0 1467.5L2045.0 1467.7" fill="none" stroke="#ED7D31" stroke-width="11.5" stroke-linecap="round" stroke-linejoin="round" stroke-dasharray="34.5 45.5 34.5 46.9 34.5 42.9 34.5 48.4 34.5 43.8 34.5 44.5 34.5 47.8 34.5 45.0 34.5 45.2 34.5 45.2 34.5 46.7 34.5 45.1 34.5 48.0 34.5 44.8 34.5 43.4 34.5 47.4 34.5 43.3 34.5 43.1 34.5 45.5 34.5 45.5 34.5 45.3 34.5 46.4 34.5 44.9 34.5 43.8 34.5 48.1 34.5 46.5 34.5 45.0 34.5 43.5 34.5 46.7 34.5 45.1 34.5 46.2 34.5 45.4 34.5 46.5 34.5 45.1 34.5 45.1 34.5 45.5 34.5 3115.0" stroke-dashoffset="-2.8"/>
<path d="M269.0 1494.0L271.6 1492.8L274.4 1491.2L277.2 1489.8L280.1 1489.3L282.9 1489.9L285.7 1490.9L288.6 1491.8L291.5 1492.6L294.4 1493.3L297.4 1493.8L300.3 1494.2L303.3 1494.4L306.3 1494.4L309.3 1494.3L312.3 1494.0L315.2 1493.4L318.2 1492.7L321.2 1492.1L324.2 1491.7L327.2 1491.7L330.2 1492.1L333.2 1492.3L336.0 1491.8L338.7 1490.7L341.4 1489.1L343.9 1487.4L346.4 1485.6L348.8 1483.8L351.2 1482.0L353.6 1480.1L356.0 1478.2L358.5 1476.4L361.0 1475.0L363.7 1474.7L366.4 1475.9L369.2 1477.8L371.7 1479.1L373.9 1478.8L375.7 1476.8L377.2 1473.8L378.8 1470.7L380.3 1467.7L381.9 1464.9L383.5 1462.3L385.3 1459.9L387.1 1457.7L389.1 1455.6L391.2 1453.7L393.5 1451.9L396.0 1450.3L398.6 1448.8L401.3 1447.4L404.0 1445.9L406.7 1444.4L409.3 1442.7L411.7 1441.0L414.2 1439.1L416.5 1437.2L418.9 1435.3L421.2 1433.4L423.6 1431.6L425.9 1429.8L428.4 1428.0L430.9 1426.5L433.4 1425.4L436.0 1425.9L438.2 1427.7L440.0 1430.1L441.4 1432.9L442.6 1435.9L443.7 1439.0L444.8 1442.0L446.0 1444.8L447.5 1447.3L449.2 1449.7L451.1 1451.7L453.3 1453.6L455.8 1455.2L458.4 1456.5L461.2 1457.6L464.2 1458.5L467.3 1459.0L470.4 1459.3L473.5 1459.3L476.6 1459.0L479.6 1458.4L482.5 1457.6L485.3 1456.4L488.1 1455.0L490.7 1453.5L493.3 1451.9L495.9 1450.3L498.5 1448.6L501.1 1447.1L503.7 1445.7L506.3 1444.5L509.0 1443.6L511.8 1443.0L514.7 1442.8L517.7 1442.8L520.7 1443.1L523.8 1443.5L526.9 1443.8L529.9 1444.1L532.9 1444.2L536.0 1444.3L539.0 1444.2L541.9 1444.1L544.9 1443.8L547.9 1443.5L550.8 1443.1L553.7 1442.6L556.6 1442.0L559.5 1441.3L562.3 1440.6L565.1 1439.8L568.0 1438.9L570.8 1437.9L573.6 1437.0L576.3 1435.9L579.1 1434.8L581.8 1433.7L584.6 1432.5L587.3 1431.2L590.0 1430.0L592.7 1428.7L595.3 1427.3L598.0 1426.0L600.6 1424.6L603.2 1423.2L605.8 1421.8L608.4 1420.3L611.0 1418.9L613.6 1417.4L616.2 1416.0L618.7 1414.6L621.2 1413.1L623.8 1411.7L626.3 1410.3L628.8 1408.9L631.4 1407.5L633.9 1406.1L636.5 1404.7L639.1 1403.4L641.7 1402.1L644.3 1400.8L646.9 1399.6L649.6 1398.4L652.3 1397.2L655.1 1396.0L657.9 1394.9L660.7 1393.9L663.6 1392.9L666.5 1391.8L669.3 1390.8L672.2 1389.8L675.1 1388.7L677.9 1387.7L680.7 1386.5L683.5 1385.4L686.2 1384.1L688.8 1382.8L691.4 1381.3L693.9 1379.8L696.2 1378.2L698.5 1376.4L700.6 1374.4L702.6 1372.4L704.5 1370.2L706.3 1367.9L708.0 1365.4L709.6 1362.9L711.1 1360.3L712.6 1357.6L714.0 1354.8L715.4 1352.1L716.7 1349.2L718.0 1346.4L719.3 1343.5L720.6 1340.6L722.0 1337.8L723.3 1334.9L724.7 1332.1L726.1 1329.4L727.5 1326.7L729.0 1324.0L730.5 1321.4L732.1 1318.8L733.7 1316.3L735.3 1313.8L737.0 1311.3L738.7 1308.8L740.4 1306.4L742.1 1304.0L743.8 1301.6L745.6 1299.2L747.4 1296.8L749.2 1294.5L751.0 1292.1L752.8 1289.8L754.6 1287.4L756.4 1285.1L758.3 1282.7L760.1 1280.4L761.9 1278.0L763.8 1275.7L765.6 1273.3L767.5 1271.0L769.3 1268.6L771.2 1266.3L773.0 1263.9L774.9 1261.5L776.7 1259.2L778.6 1256.8L780.4 1254.4L782.2 1252.1L784.1 1249.7L785.9 1247.3L787.7 1244.9L789.5 1242.5L791.3 1240.1L793.1 1237.7L794.9 1235.3L796.7 1232.9L798.4 1230.4L800.2 1228.0L801.9 1225.5L803.6 1223.1L805.3 1220.6L807.0 1218.1L808.7 1215.6L810.3 1213.1L812.0 1210.6L813.6 1208.1L815.2 1205.6L816.8 1203.0L818.3 1200.5L819.9 1197.9L821.4 1195.3L823.0 1192.8L824.5 1190.2L826.0 1187.6L827.4 1185.0L828.9 1182.3L830.4 1179.7L831.8 1177.1L833.2 1174.5L834.6 1171.8L836.0 1169.2L837.4 1166.5L838.8 1163.8L840.2 1161.2L841.5 1158.5L842.9 1155.8L844.2 1153.1L845.5 1150.4L846.8 1147.7L848.1 1145.0L849.4 1142.3L850.7 1139.6L852.0 1136.8L853.2 1134.1L854.5 1131.4L855.7 1128.6L857.0 1125.9L858.2 1123.2L859.4 1120.4L860.7 1117.7L861.9 1114.9L863.1 1112.2L864.3 1109.4L865.4 1106.7L866.6 1103.9L867.8 1101.1L869.0 1098.3L870.1 1095.6L871.3 1092.8L872.4 1090.0L873.6 1087.2L874.7 1084.5L875.8 1081.7L877.0 1078.9L878.1 1076.1L879.2 1073.3L880.3 1070.5L881.4 1067.7L882.5 1064.9L883.6 1062.1L884.7 1059.3L885.7 1056.5L886.8 1053.7L887.9 1050.8L889.0 1048.0L890.0 1045.2L891.1 1042.4L892.1 1039.6L893.2 1036.8L894.2 1033.9L895.3 1031.1L896.3 1028.3L897.3 1025.5L898.3 1022.6L899.4 1019.8L900.4 1017.0L901.4 1014.1L902.4 1011.3L903.4 1008.5L904.4 1005.6L905.4 1002.8L906.5 1000.0L907.5 997.1L908.4 994.3L909.4 991.4L910.4 988.6L911.4 985.8L912.4 982.9L913.4 980.1L914.4 977.2L915.4 974.4L916.3 971.5L917.3 968.7L918.3 965.9L919.3 963.0L920.3 960.2L921.2 957.3L922.2 954.5L923.2 951.6L924.2 948.8L925.1 946.0L926.1 943.1L927.1 940.3L928.0 937.4L929.0 934.6L930.0 931.8L930.9 928.9L931.9 926.1L932.9 923.2L933.8 920.4L934.8 917.6L935.8 914.7L936.7 911.9L937.7 909.1L938.7 906.2L939.6 903.4L940.6 900.5L941.6 897.7L942.5 894.9L943.5 892.0L944.4 889.2L945.4 886.4L946.4 883.5L947.3 880.7L948.3 877.8L949.2 875.0L950.2 872.2L951.2 869.3L952.1 866.5L953.1 863.7L954.0 860.8L955.0 858.0L956.0 855.1L956.9 852.3L957.9 849.5L958.8 846.6L959.8 843.8L960.8 841.0L961.7 838.1L962.7 835.3L963.6 832.5L964.6 829.6L965.5 826.8L966.5 823.9L967.5 821.1L968.4 818.3L969.4 815.4L970.3 812.6L971.3 809.8L972.3 806.9L973.2 804.1L974.2 801.2L975.1 798.4L976.1 795.6L977.0 792.7L978.0 789.9L979.0 787.0L979.9 784.2L980.9 781.4L981.8 778.5L982.8 775.7L983.8 772.8L984.7 770.0L985.7 767.2L986.7 764.3L987.6 761.5L988.6 758.6L989.5 755.8L990.5 753.0L991.5 750.1L992.4 747.3L993.4 744.4L994.4 741.6L995.3 738.7L996.3 735.9L997.3 733.1L998.2 730.2L999.2 727.4L1000.2 724.5L1001.1 721.7L1002.1 718.8L1003.1 716.0L1004.1 713.1L1005.0 710.3L1006.0 707.4L1007.0 704.6L1008.0 701.7L1008.9 698.9L1009.9 696.0L1010.9 693.2L1011.9 690.3L1012.8 687.5L1013.8 684.6L1014.8 681.8L1015.8 678.9L1016.8 676.1L1017.7 673.2L1018.7 670.4L1019.7 667.5L1020.7 664.6L1021.7 661.8L1022.7 658.9L1023.7 656.1L1024.6 653.2L1025.6 650.4L1026.6 647.5L1027.6 644.6L1028.6 641.8L1029.6 638.9L1030.6 636.0L1031.6 633.2L1032.6 630.3L1033.6 627.5L1034.6 624.6L1035.6 621.7L1036.6 618.9L1037.6 616.0L1038.6 613.1L1039.6 610.2L1040.6 607.4L1041.6 604.5L1042.6 601.6L1043.7 598.8L1044.7 595.9L1045.7 593.0L1046.7 590.2L1047.8 587.3L1048.9 584.5L1049.9 581.7L1051.0 578.9L1052.2 576.1L1053.3 573.3L1054.5 570.5L1055.7 567.8L1056.9 565.0L1058.2 562.3L1059.5 559.7L1060.8 557.0L1062.1 554.4L1063.6 551.8L1065.0 549.2L1066.5 546.7L1068.0 544.2L1069.6 541.7L1071.2 539.3L1072.9 536.9L1074.7 534.6L1076.5 532.3L1078.3 530.0L1080.2 527.8L1082.2 525.7L1084.3 523.5L1086.4 521.5L1088.6 519.5L1090.8 517.5L1093.1 515.6L1095.5 513.8L1097.9 512.1L1100.4 510.5L1102.9 509.0L1105.5 507.6L1108.1 506.4L1110.8 505.3L1113.4 504.4L1116.1 503.7L1118.8 503.1L1121.5 502.8L1124.2 502.7L1126.9 502.8L1129.6 503.2L1132.3 503.7L1135.0 504.5L1137.6 505.4L1140.3 506.6L1142.9 507.9L1145.5 509.3L1148.1 510.9L1150.7 512.6L1153.3 514.4L1155.8 516.3L1158.3 518.3L1160.8 520.3L1163.2 522.4L1165.6 524.6L1168.0 526.7L1170.3 528.9L1172.6 531.1L1174.9 533.4L1177.1 535.6L1179.3 537.9L1181.5 540.1L1183.6 542.4L1185.7 544.7L1187.7 547.1L1189.8 549.4L1191.7 551.7L1193.7 554.1L1195.6 556.5L1197.5 558.9L1199.4 561.3L1201.2 563.7L1203.1 566.1L1204.8 568.6L1206.6 571.0L1208.3 573.5L1210.0 576.0L1211.7 578.5L1213.4 581.0L1215.0 583.5L1216.6 586.0L1218.2 588.6L1219.7 591.1L1221.3 593.7L1222.8 596.3L1224.3 598.9L1225.8 601.4L1227.2 604.0L1228.6 606.7L1230.1 609.3L1231.5 611.9L1232.8 614.5L1234.2 617.2L1235.6 619.8L1236.9 622.5L1238.2 625.2L1239.5 627.8L1240.8 630.5L1242.1 633.2L1243.3 635.9L1244.6 638.6L1245.8 641.3L1247.1 644.0L1248.3 646.7L1249.5 649.4L1250.7 652.2L1251.9 654.9L1253.1 657.6L1254.2 660.4L1255.4 663.1L1256.6 665.9L1257.7 668.6L1258.9 671.4L1260.0 674.2L1261.1 676.9L1262.3 679.7L1263.4 682.4L1264.5 685.2L1265.7 688.0L1266.8 690.8L1267.9 693.5L1269.1 696.3L1270.2 699.1L1271.3 701.9L1272.4 704.6L1273.6 707.4L1274.7 710.2L1275.8 713.0L1276.9 715.8L1278.1 718.5L1279.2 721.3L1280.3 724.1L1281.5 726.9L1282.6 729.7L1283.7 732.4L1284.9 735.2L1286.0 738.0L1287.1 740.8L1288.3 743.6L1289.4 746.4L1290.6 749.1L1291.7 751.9L1292.8 754.7L1294.0 757.5L1295.1 760.3L1296.3 763.1L1297.5 765.8L1298.6 768.6L1299.8 771.4L1300.9 774.2L1302.1 776.9L1303.3 779.7L1304.5 782.5L1305.6 785.3L1306.8 788.0L1308.0 790.8L1309.2 793.6L1310.4 796.3L1311.6 799.1L1312.8 801.8L1314.0 804.6L1315.2 807.4L1316.4 810.1L1317.7 812.9L1318.9 815.6L1320.1 818.4L1321.4 821.1L1322.6 823.8L1323.8 826.6L1325.1 829.3L1326.4 832.1L1327.6 834.8L1328.9 837.5L1330.2 840.2L1331.5 843.0L1332.8 845.7L1334.1 848.4L1335.4 851.1L1336.7 853.8L1338.0 856.5L1339.3 859.2L1340.6 861.9L1342.0 864.6L1343.3 867.3L1344.7 870.0L1346.0 872.7L1347.4 875.3L1348.8 878.0L1350.2 880.7L1351.6 883.4L1353.0 886.0L1354.4 888.7L1355.8 891.3L1357.2 894.0L1358.6 896.6L1360.1 899.3L1361.5 901.9L1362.9 904.6L1364.4 907.2L1365.8 909.8L1367.3 912.5L1368.8 915.1L1370.2 917.7L1371.7 920.3L1373.2 923.0L1374.7 925.6L1376.2 928.2L1377.6 930.8L1379.1 933.4L1380.7 936.0L1382.2 938.6L1383.7 941.2L1385.2 943.8L1386.7 946.4L1388.2 949.0L1389.8 951.6L1391.3 954.2L1392.8 956.8L1394.4 959.3L1395.9 961.9L1397.4 964.5L1399.0 967.1L1400.5 969.7L1402.1 972.2L1403.6 974.8L1405.2 977.4L1406.8 980.0L1408.3 982.5L1409.9 985.1L1411.5 987.7L1413.0 990.2L1414.6 992.8L1416.2 995.3L1417.7 997.9L1419.3 1000.5L1420.9 1003.0L1422.5 1005.6L1424.0 1008.1L1425.6 1010.7L1427.2 1013.2L1428.8 1015.8L1430.4 1018.3L1431.9 1020.9L1433.5 1023.5L1435.1 1026.0L1436.7 1028.6L1438.2 1031.1L1439.8 1033.7L1441.4 1036.2L1443.0 1038.8L1444.6 1041.3L1446.1 1043.8L1447.7 1046.4L1449.3 1048.9L1450.9 1051.5L1452.5 1054.0L1454.0 1056.6L1455.6 1059.1L1457.2 1061.7L1458.8 1064.2L1460.4 1066.7L1462.0 1069.3L1463.5 1071.8L1465.1 1074.3L1466.7 1076.9L1468.3 1079.4L1469.9 1081.9L1471.5 1084.5L1473.1 1087.0L1474.7 1089.5L1476.3 1092.0L1478.0 1094.6L1479.6 1097.1L1481.2 1099.6L1482.8 1102.1L1484.4 1104.6L1486.1 1107.1L1487.7 1109.6L1489.3 1112.1L1491.0 1114.6L1492.6 1117.1L1494.3 1119.6L1496.0 1122.1L1497.6 1124.6L1499.3 1127.1L1501.0 1129.6L1502.7 1132.1L1504.3 1134.5L1506.0 1137.0L1507.7 1139.5L1509.4 1141.9L1511.2 1144.4L1512.9 1146.9L1514.6 1149.3L1516.3 1151.8L1518.1 1154.2L1519.8 1156.7L1521.6 1159.1L1523.3 1161.5L1525.1 1164.0L1526.9 1166.4L1528.7 1168.8L1530.5 1171.2L1532.3 1173.7L1534.1 1176.1L1535.9 1178.5L1537.7 1180.9L1539.6 1183.3L1541.4 1185.7L1543.3 1188.0L1545.2 1190.4L1547.0 1192.8L1548.9 1195.2L1550.8 1197.5L1552.7 1199.9L1554.6 1202.2L1556.6 1204.6L1558.5 1206.9L1560.5 1209.3L1562.4 1211.6L1564.4 1213.9L1566.4 1216.2L1568.4 1218.5L1570.4 1220.8L1572.4 1223.1L1574.4 1225.3L1576.4 1227.6L1578.5 1229.8L1580.5 1232.1L1582.6 1234.3L1584.7 1236.5L1586.8 1238.7L1588.9 1240.9L1591.0 1243.1L1593.1 1245.2L1595.3 1247.4L1597.4 1249.5L1599.6 1251.6L1601.8 1253.7L1603.9 1255.8L1606.1 1257.8L1608.4 1259.9L1610.6 1261.9L1612.8 1263.9L1615.1 1265.9L1617.3 1267.9L1619.6 1269.9L1621.9 1271.8L1624.2 1273.7L1626.5 1275.6L1628.8 1277.5L1631.2 1279.4L1633.5 1281.2L1635.9 1283.0L1638.2 1284.8L1640.6 1286.6L1643.0 1288.3L1645.5 1290.0L1647.9 1291.7L1650.3 1293.4L1652.8 1295.1L1655.3 1296.7L1657.8 1298.3L1660.3 1299.9L1662.8 1301.4L1665.3 1303.0L1667.8 1304.5L1670.4 1305.9L1673.0 1307.4L1675.6 1308.8L1678.2 1310.2L1680.8 1311.6L1683.4 1312.9L1686.1 1314.2L1688.7 1315.5L1691.4 1316.7L1694.1 1317.9L1696.8 1319.1L1699.5 1320.2L1702.2 1321.4L1705.0 1322.4L1707.7 1323.5L1710.5 1324.6L1713.3 1325.6L1716.1 1326.6L1718.9 1327.5L1721.7 1328.5L1724.6 1329.4L1727.4 1330.3L1730.3 1331.1L1733.1 1332.0L1736.0 1332.8L1738.9 1333.6L1741.8 1334.4L1744.7 1335.2L1747.6 1335.9L1750.5 1336.7L1753.4 1337.4L1756.4 1338.1L1759.3 1338.8L1762.3 1339.5L1765.2 1340.1L1768.2 1340.8L1771.2 1341.4L1774.1 1342.0L1777.1 1342.7L1780.1 1343.3L1783.1 1343.9L1786.0 1344.4L1789.0 1345.0L1792.0 1345.6L1795.0 1346.2L1798.0 1346.7L1801.0 1347.3L1804.0 1347.8L1807.0 1348.4L1810.1 1348.9L1813.1 1349.5L1816.1 1350.0L1819.1 1350.5L1822.1 1351.1L1825.1 1351.6L1828.1 1352.1L1831.1 1352.7L1834.1 1353.2L1837.1 1353.8L1840.1 1354.3L1843.1 1354.9L1846.1 1355.4L1849.1 1356.0L1852.0 1356.6L1855.0 1357.2L1858.0 1357.7L1861.0 1358.3L1863.9 1358.9L1866.9 1359.6L1869.8 1360.2L1872.8 1360.8L1875.7 1361.5L1878.7 1362.1L1881.6 1362.8L1884.5 1363.5L1887.4 1364.2L1890.3 1364.9L1893.2 1365.6L1896.1 1366.4L1899.0 1367.1L1901.9 1367.9L1904.8 1368.7L1907.6 1369.4L1910.5 1370.2L1913.4 1371.0L1916.2 1371.8L1919.1 1372.7L1921.9 1373.5L1924.8 1374.3L1927.6 1375.2L1930.5 1376.0L1933.3 1376.9L1936.1 1377.7L1939.0 1378.6L1941.8 1379.5L1944.7 1380.3L1947.5 1381.2L1950.3 1382.1L1953.2 1383.0L1956.0 1383.9L1958.8 1384.8L1961.7 1385.7L1964.5 1386.6L1967.3 1387.5L1970.2 1388.5L1973.0 1389.4L1975.9 1390.3L1978.7 1391.2L1981.6 1392.1L1984.4 1393.0L1987.3 1394.0L1990.1 1394.9L1993.0 1395.8L1995.9 1396.7L1998.7 1397.6L2001.6 1398.5L2004.5 1399.4L2007.4 1400.3L2010.3 1401.2L2013.2 1402.1L2016.1 1403.0L2019.0 1403.9L2021.9 1404.8L2024.8 1405.7L2027.8 1406.6L2030.7 1407.5L2033.7 1408.3L2036.6 1409.2L2039.6 1410.0L2042.6 1410.9L2045.5 1411.7" fill="none" stroke="#FF0000" stroke-width="9" stroke-linecap="round" stroke-linejoin="round" stroke-dasharray="25.4 13.6 27.0 39.2 27.0 31.5 27.0 40.5 27.0 37.8 27.0 37.0 27.0 36.3 27.0 35.5 27.0 37.0 27.0 37.2 27.0 37.5 27.0 37.4 27.0 36.1 27.0 36.1 27.0 37.7 27.0 39.1 27.0 35.9 27.0 35.9 27.0 38.9 27.0 36.3 27.0 36.6 27.0 36.4 27.0 36.3 27.0 36.8 27.0 38.5 27.0 37.4 27.0 35.6 27.0 37.4 27.0 37.7 27.0 36.2 27.0 37.7 27.0 37.7 27.0 36.0 27.0 37.4 27.0 37.3 27.0 36.2 27.0 38.3 27.0 34.8 27.0 38.3 27.0 38.3 27.0 36.6 27.0 37.0 27.0 35.8 27.0 38.5 27.0 37.0 27.0 3066.4" stroke-dashoffset="-0.0"/>
</g>
<text x="269.0" y="1610.5" font-size="77" text-anchor="middle">0</text>
<text x="620.3" y="1610.5" font-size="77" text-anchor="middle">0.5</text>
<text x="973.2" y="1610.5" font-size="77" text-anchor="middle">1</text>
<text x="1326.5" y="1610.5" font-size="77" text-anchor="middle">1.5</text>
<text x="1679.2" y="1610.5" font-size="77" text-anchor="middle">2</text>
<text x="2030.2" y="1610.5" font-size="77" text-anchor="middle">2.5</text>
<text x="202.7" y="1520.0" font-size="77" text-anchor="end">0</text>
<text x="202.7" y="1148.6" font-size="77" text-anchor="end">7</text>
<text x="202.7" y="774.8" font-size="77" text-anchor="end">14</text>
<text x="202.7" y="402.4" font-size="77" text-anchor="end">21</text>
<text x="1195.5" y="1704" font-size="90" font-weight="bold" text-anchor="middle" textLength="372.9" lengthAdjust="spacingAndGlyphs">Size (mm)</text>
<text transform="translate(96.1 885.7) rotate(-90)" x="0" y="0" font-size="90" font-weight="bold" text-anchor="middle" textLength="787.8" lengthAdjust="spacingAndGlyphs">Number fraction (%)</text>
</svg></body></html>
